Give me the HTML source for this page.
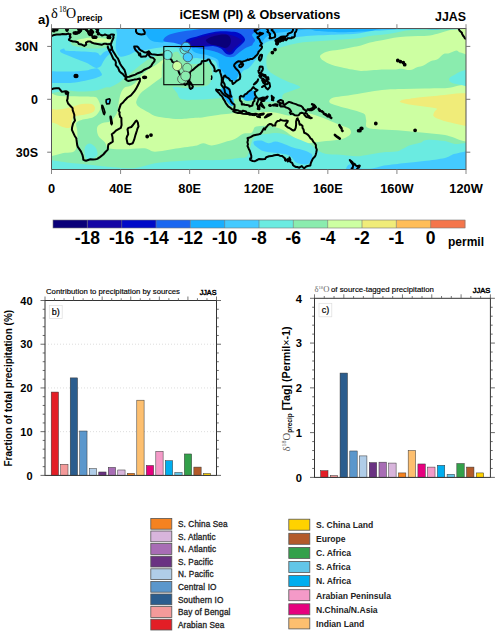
<!DOCTYPE html>
<html><head><meta charset="utf-8"><style>
html,body{margin:0;padding:0;background:#fff;}
body{width:500px;height:636px;overflow:hidden;}
svg{display:block;font-family:"Liberation Sans", sans-serif;}
</style></head><body>
<svg width="500" height="636" viewBox="0 0 500 636">
<clipPath id="mclip"><rect x="51.5" y="28.5" width="414.5" height="141.0"/></clipPath>
<g clip-path="url(#mclip)"><rect x="0" y="0" width="500" height="200" fill="rgb(138,236,174)"/>
<path d="M320.0,56.4 C320.0,55.2 321.6,54.1 323.2,53.2 C324.8,52.3 326.9,51.6 329.5,51.1 C332.6,50.5 338.2,49.9 342.0,49.3 C345.8,48.6 348.8,47.8 352.0,47.2 C355.2,46.6 358.0,46.3 361.0,45.5 C364.0,44.7 366.5,43.4 370.0,42.5 C373.5,41.6 378.0,41.0 382.0,40.2 C386.0,39.4 390.0,38.4 394.0,37.8 C398.0,37.2 402.0,36.9 406.0,36.6 C410.0,36.3 414.0,36.2 418.0,36.0 C422.0,35.8 426.3,35.9 430.0,35.4 C433.7,34.9 436.7,33.9 440.0,33.0 C443.3,32.1 446.7,30.8 450.0,30.0 C453.3,29.2 456.2,29.5 460.0,28.0 C464.2,26.3 472.5,15.8 475.0,20.0 C477.5,24.2 477.4,47.9 475.0,53.3 C472.6,58.6 463.5,53.1 460.4,52.6 C458.5,52.3 458.1,50.4 456.2,50.5 C454.3,50.6 451.3,52.7 449.2,53.3 C447.1,53.9 445.5,53.1 443.6,54.0 C441.7,54.9 440.1,57.7 438.0,58.9 C435.9,60.1 433.3,60.0 431.0,61.0 C428.7,62.0 426.3,64.2 424.0,65.2 C421.7,66.2 419.3,66.5 417.0,67.3 C414.7,68.1 412.6,69.9 410.0,70.1 C407.4,70.3 403.9,68.8 401.6,68.7 C399.3,68.6 398.3,69.3 396.0,69.4 C392.7,69.5 386.1,69.3 382.0,69.5 C377.9,69.7 375.0,70.1 371.5,70.3 C368.0,70.5 363.8,71.0 361.0,70.9 C358.5,70.9 357.2,70.4 354.7,70.0 C351.9,69.5 348.0,68.9 344.2,68.0 C340.4,67.1 335.1,66.0 331.6,64.8 C328.1,63.6 325.1,62.0 323.2,60.6 C321.5,59.4 320.0,57.6 320.0,56.4Z" fill="rgb(205, 255, 162)"/>
<path d="M329.2,101.4 C329.2,100.5 330.1,98.8 331.6,98.2 C333.6,97.3 338.0,96.8 341.2,96.3 C344.4,95.8 347.0,95.6 350.8,95.0 C357.6,94.0 373.3,91.0 382.0,90.0 C390.4,89.0 396.0,89.2 403.0,89.0 C410.0,88.8 417.0,88.7 424.0,88.6 C431.0,88.5 436.6,88.3 445.0,88.3 C453.5,88.2 470.0,79.8 475.0,88.3 C480.0,96.8 480.0,131.3 475.0,139.1 C470.0,146.9 453.5,135.9 445.0,134.9 C436.6,133.9 431.0,133.5 424.0,132.8 C417.0,132.1 410.0,131.2 403.0,130.7 C396.0,130.2 387.9,130.1 382.0,129.6 C376.1,129.1 369.9,129.1 367.3,127.5 C364.8,126.0 366.6,122.3 366.2,120.2 C365.8,118.1 365.6,116.1 365.2,115.0 C364.9,114.2 364.4,113.8 363.6,113.4 C361.7,112.6 357.7,111.3 354.0,110.2 C350.3,109.1 344.9,108.1 341.2,107.0 C337.5,105.9 333.6,104.7 331.6,103.8 C330.4,103.2 329.2,102.3 329.2,101.4Z" fill="rgb(205, 255, 162)"/>
<path d="M250.0,113.0 C253.8,112.9 257.8,112.1 262.0,112.0 C266.2,111.9 270.3,111.9 275.0,112.5 C279.7,113.1 285.9,115.5 290.0,115.8 C293.9,116.1 296.4,114.6 299.6,114.2 C302.8,113.8 305.5,112.9 309.2,113.4 C312.9,113.9 318.3,116.1 322.0,117.4 C325.7,118.7 328.4,120.1 331.6,121.4 C334.8,122.7 338.3,124.2 341.2,125.4 C344.1,126.6 347.6,127.3 349.2,128.6 C350.8,129.9 351.3,131.9 350.8,133.4 C350.3,134.9 348.1,136.3 346.0,137.4 C343.9,138.5 341.3,139.3 338.0,139.8 C334.0,140.5 327.3,140.9 322.0,141.4 C316.7,141.9 310.5,143.6 306.0,143.0 C301.5,142.4 298.5,140.0 295.0,138.0 C291.5,136.0 287.8,132.7 285.0,131.0 C282.4,129.5 280.5,128.8 278.0,128.0 C275.5,127.2 272.7,126.3 270.0,126.0 C267.3,125.7 264.5,125.8 262.0,126.0 C259.5,126.2 256.7,125.9 255.0,127.0 C253.3,128.1 253.6,131.7 251.6,132.8 C249.6,133.9 246.0,132.8 243.2,133.8 C240.4,134.9 238.0,137.7 234.8,139.1 C231.7,140.5 228.2,141.1 224.3,142.2 C220.5,143.2 215.2,145.2 211.7,145.4 C208.2,145.6 205.8,143.3 203.3,143.3 C200.9,143.3 199.6,144.9 197.0,145.4 C192.4,146.3 183.0,147.4 176.0,148.5 C169.0,149.6 160.2,151.7 155.0,151.7 C150.6,151.7 148.9,148.6 144.5,148.3 C139.2,147.9 129.4,149.3 123.5,149.3 C117.6,149.3 112.0,149.5 108.8,148.3 C106.0,147.2 106.3,144.1 104.6,142.0 C102.8,139.9 99.5,138.1 98.3,135.7 C97.1,133.2 96.5,129.4 97.2,127.3 C97.9,125.2 100.2,124.1 102.5,123.1 C104.8,122.0 108.5,122.8 110.9,121.0 C113.4,119.2 115.8,115.4 117.2,112.6 C118.6,109.8 118.2,106.1 119.3,104.0 C120.4,101.9 121.6,100.6 124.0,100.0 C126.5,99.3 131.6,99.0 134.0,100.0 C136.4,101.0 135.9,104.3 138.2,106.3 C140.6,108.4 145.9,111.0 148.7,112.6 C151.2,114.0 152.2,115.3 155.0,116.0 C159.6,117.1 169.0,118.8 176.0,119.1 C183.0,119.4 190.0,118.8 197.0,118.1 C204.0,117.4 211.0,115.9 218.0,115.0 C225.0,114.1 233.7,113.1 239.0,112.8 C243.4,112.5 246.2,113.1 250.0,113.0Z" fill="rgb(205, 255, 162)"/>
<path d="M40.0,95.0 C42.7,87.4 53.3,95.8 60.0,96.0 C66.7,96.2 74.2,96.3 80.0,96.5 C85.8,96.7 92.0,96.4 95.0,97.0 C96.8,97.3 97.5,98.4 98.3,100.0 C99.2,101.9 101.1,105.6 100.4,108.4 C99.7,111.2 97.2,114.9 94.1,116.8 C90.9,118.7 84.5,119.0 81.5,120.0 C79.2,120.8 76.9,121.2 76.2,123.1 C75.5,125.0 77.2,128.1 77.3,131.5 C77.4,135.2 77.5,141.7 77.0,145.0 C76.5,147.8 76.0,150.2 74.0,151.5 C72.0,152.8 68.6,152.7 65.0,152.8 C59.3,153.0 44.0,161.7 40.0,152.5 C35.8,142.9 36.7,104.4 40.0,95.0Z" fill="rgb(205, 255, 162)"/>
<path d="M130.0,86.0 C131.9,85.2 133.4,84.6 135.2,83.0 C137.2,81.1 139.9,76.9 142.2,74.6 C144.5,72.3 146.9,70.6 149.2,69.0 C151.5,67.4 154.1,66.2 156.2,64.8 C158.3,63.4 160.4,61.5 161.8,60.6 C162.8,59.9 164.1,59.0 164.6,59.2 C165.1,59.4 165.0,60.9 165.0,62.0 C165.0,63.8 164.8,67.7 164.5,70.0 C164.2,72.3 164.1,74.3 163.0,76.0 C161.9,77.7 160.0,78.4 158.0,80.0 C155.8,81.7 153.0,83.7 150.0,86.0 C147.0,88.3 142.3,91.0 140.0,94.0 C137.7,97.0 136.0,101.0 136.0,104.0 C136.0,107.0 137.7,110.0 140.0,112.0 C142.3,114.0 146.0,115.0 150.0,116.0 C154.0,117.0 159.0,117.5 164.0,118.0 C169.0,118.5 174.0,119.0 180.0,119.0 C186.0,119.0 196.7,117.0 200.0,118.0 C202.7,118.8 202.8,124.6 200.0,125.0 C191.7,126.2 163.7,125.0 150.0,125.0 C137.2,125.0 123.3,127.5 118.0,125.0 C112.7,122.5 117.7,114.8 118.0,110.0 C118.3,105.2 119.0,99.7 120.0,96.0 C120.9,92.5 122.3,89.7 124.0,88.0 C125.7,86.3 128.1,86.8 130.0,86.0Z" fill="rgb(205, 255, 162)"/>
<path d="M399.8,101.3 C400.5,100.2 407.9,99.0 413.5,98.2 C419.3,97.3 426.1,96.4 434.5,96.0 C444.8,95.5 468.2,90.7 475.0,95.4 C481.8,100.1 479.3,119.9 475.0,124.4 C470.7,128.9 455.2,123.2 449.2,122.3 C444.9,121.7 441.3,120.1 438.7,119.1 C436.5,118.2 434.2,117.2 433.5,116.0 C432.8,114.8 434.0,113.0 434.5,111.8 C435.0,110.6 438.0,109.3 436.6,108.6 C434.9,107.7 428.6,107.3 424.0,106.6 C419.4,105.9 413.3,105.4 409.3,104.5 C405.4,103.6 399.1,102.3 399.8,101.3Z" fill="rgb(240, 236, 121)"/>
<path d="M475.0,100.0 C477.0,99.8 476.5,95.8 475.0,95.0 C473.5,94.2 469.6,94.9 466.0,95.0 C461.0,95.2 452.0,95.5 445.0,96.0 C438.0,96.5 431.0,97.0 424.0,97.8 C417.0,98.5 394.5,100.1 403.0,100.5 C411.5,100.9 463.0,100.9 475.0,100.0Z" fill="rgb(240, 236, 121)"/>
<path d="M50.0,108.8 C53.0,108.9 54.8,109.8 58.0,109.6 C61.5,109.3 66.8,108.1 70.8,107.2 C74.8,106.3 78.5,104.5 82.0,104.0 C85.5,103.5 89.5,103.5 91.6,104.0 C93.4,104.4 94.5,105.9 94.8,107.2 C95.1,108.5 94.8,110.8 93.2,112.0 C91.6,113.2 88.1,113.7 85.2,114.4 C82.3,115.1 77.7,115.3 75.6,116.0 C74.1,116.5 73.1,116.9 72.4,118.4 C71.6,120.1 71.6,124.8 70.8,126.4 C70.2,127.7 69.0,128.0 67.6,128.0 C66.0,128.0 63.3,127.2 61.2,126.4 C59.1,125.6 57.5,124.0 54.8,123.2 C51.3,122.1 42.5,122.4 40.0,120.0 C37.5,117.6 38.3,110.9 40.0,109.0 C41.7,107.1 47.0,108.7 50.0,108.8Z" fill="rgb(240, 236, 121)"/>
<path d="M40.0,20.0 C112.5,8.6 402.5,18.6 475.0,20.0 C478.3,20.1 478.2,27.5 475.0,28.3 C469.2,29.7 447.5,28.4 440.0,28.5 C436.0,28.5 433.7,28.7 430.0,28.8 C426.3,28.9 422.0,29.1 418.0,29.4 C414.0,29.7 410.0,30.0 406.0,30.6 C402.0,31.2 398.0,32.3 394.0,33.0 C390.0,33.7 386.0,34.3 382.0,34.8 C378.0,35.3 374.3,35.4 370.0,36.0 C365.7,36.6 361.7,38.0 356.0,38.6 C349.0,39.4 337.3,39.9 328.0,40.6 C318.7,41.3 307.7,41.7 300.0,42.8 C292.7,43.8 286.6,45.8 282.0,47.0 C278.0,48.0 274.5,48.6 272.2,49.8 C270.1,50.9 268.9,52.5 268.0,54.0 C267.1,55.5 266.6,56.6 266.5,58.5 C266.4,61.0 266.1,66.2 267.5,69.0 C268.9,71.8 271.6,73.2 274.9,75.3 C278.2,77.4 283.3,79.7 287.5,81.6 C291.7,83.5 298.9,85.4 300.0,86.8 C301.1,88.2 296.4,88.9 293.8,90.0 C291.0,91.2 285.4,92.5 283.3,94.2 C281.4,95.7 283.3,98.8 281.2,100.0 C279.0,101.3 274.4,102.0 270.0,102.0 C265.6,102.0 260.0,100.5 255.0,100.0 C250.0,99.5 245.2,99.3 240.0,99.0 C234.8,98.7 230.4,97.9 224.0,98.0 C217.3,98.1 207.2,99.3 200.0,99.5 C192.8,99.7 184.8,100.1 181.0,99.0 C178.2,98.2 178.5,95.2 177.0,93.0 C175.5,90.8 173.4,89.2 172.0,86.0 C170.5,82.5 169.0,76.3 168.0,72.0 C167.0,67.7 166.8,63.3 166.0,60.0 C165.2,56.8 164.6,53.0 163.2,52.2 C161.8,51.4 159.5,54.1 157.6,55.0 C155.7,55.9 153.9,56.9 152.0,57.8 C150.1,58.7 148.3,59.4 146.4,60.6 C144.5,61.8 142.9,63.2 140.8,64.8 C138.7,66.4 136.1,68.5 133.8,70.4 C131.5,72.3 129.4,73.9 126.8,76.0 C124.2,78.1 121.2,81.1 118.4,83.0 C115.6,84.9 112.0,86.5 110.0,87.2 C108.8,87.7 108.0,87.0 106.7,87.3 C104.4,87.8 100.4,89.7 96.2,90.4 C92.0,91.1 86.4,91.5 81.5,91.5 C76.6,91.5 72.7,90.8 66.8,90.4 C59.9,89.9 43.8,98.4 40.0,88.4 C35.5,76.7 13.0,24.2 40.0,20.0Z" fill="rgb(106, 235, 225)"/>
<path d="M40.0,180.0 C32.4,179.7 34.8,163.7 40.0,160.9 C45.2,158.1 62.3,162.3 71.0,163.0 C79.4,163.7 85.0,164.4 92.0,165.1 C99.0,165.8 106.0,166.7 113.0,167.2 C120.0,167.7 127.0,168.8 134.0,168.2 C141.0,167.5 148.0,164.5 155.0,163.3 C162.0,162.1 169.0,161.7 176.0,161.2 C183.0,160.7 190.0,160.3 197.0,160.1 C204.0,159.9 211.0,160.4 218.0,160.1 C225.0,159.8 234.1,158.7 239.0,158.0 C242.4,157.5 245.3,158.7 247.4,155.9 C249.6,153.1 250.6,144.3 252.0,141.0 C253.0,138.6 253.7,137.1 256.0,136.0 C258.4,134.8 263.0,134.5 266.5,134.0 C270.0,133.5 273.9,132.9 277.0,133.0 C280.1,133.1 282.1,133.6 285.4,134.5 C288.9,135.5 293.8,137.3 298.0,139.0 C302.2,140.7 307.5,142.7 310.6,144.5 C313.4,146.1 314.4,148.0 316.9,149.6 C319.3,151.2 321.6,153.0 325.3,153.8 C329.2,154.7 335.4,154.5 340.0,154.8 C344.6,155.2 349.1,155.7 352.6,155.9 C356.0,156.1 357.7,156.3 361.0,155.9 C365.9,155.3 376.2,153.2 382.0,152.5 C387.6,151.8 392.5,152.2 396.0,151.6 C399.0,151.1 400.7,149.8 403.0,148.7 C405.3,147.6 407.0,146.2 410.0,145.2 C413.0,144.1 418.9,143.2 421.2,142.4 C422.5,142.0 422.7,140.8 424.0,140.4 C425.6,139.9 428.2,139.6 431.0,139.7 C434.5,139.8 441.0,140.4 445.0,141.1 C449.0,141.8 450.8,143.2 454.8,143.9 C459.8,144.7 471.6,140.0 475.0,146.0 C478.4,152.0 488.6,178.9 475.0,180.0 C402.5,185.7 112.5,183.2 40.0,180.0Z" fill="rgb(106, 235, 225)"/>
<path d="M449.2,78.4 C449.9,77.0 453.4,75.5 455.5,74.3 C457.6,73.1 459.1,71.8 461.8,71.1 C465.1,70.2 472.8,66.5 475.0,69.0 C477.2,71.5 477.6,83.4 475.0,86.0 C472.4,88.6 463.6,85.3 459.7,84.7 C456.3,84.2 453.1,83.6 451.3,82.6 C449.7,81.6 448.5,79.8 449.2,78.4Z" fill="rgb(106, 235, 225)"/>
<path d="M85.5,146.2 C86.4,144.7 88.3,143.3 90.0,143.5 C91.7,143.7 94.2,145.7 95.5,147.5 C96.8,149.3 97.9,152.8 97.5,154.6 C97.1,156.4 94.8,157.8 93.0,158.5 C91.2,159.2 87.9,159.8 86.5,158.8 C85.1,157.8 84.7,154.6 84.5,152.5 C84.3,150.4 84.6,147.7 85.5,146.2Z" fill="rgb(106, 235, 225)"/>
<path d="M164.0,61.0 C165.3,59.8 168.5,60.3 170.0,59.0 C171.5,57.7 171.7,54.2 173.0,53.0 C174.3,51.8 176.5,51.2 178.0,52.0 C179.5,52.8 180.0,56.1 182.0,58.0 C184.0,59.9 187.3,62.5 190.0,63.5 C192.7,64.5 195.6,64.0 198.4,63.8 C201.2,63.6 204.7,61.9 206.8,62.4 C208.9,62.9 210.1,64.5 211.0,66.6 C211.9,68.7 212.6,72.2 212.4,75.0 C212.2,77.8 211.0,81.5 209.6,83.4 C208.2,85.3 206.4,85.6 204.0,86.2 C201.6,86.8 198.2,86.7 195.0,87.0 C191.8,87.3 188.2,88.0 185.0,88.0 C181.8,88.0 179.5,87.3 176.0,87.0 C172.5,86.7 166.3,87.2 164.0,86.0 C161.7,84.9 162.3,82.5 162.0,80.0 C161.7,76.7 161.7,69.2 162.0,66.0 C162.2,63.9 162.7,62.2 164.0,61.0Z" fill="rgb(138, 236, 174)"/>
<path d="M40.0,20.0 C49.2,17.3 85.8,18.3 95.0,20.0 C98.9,20.7 94.0,27.7 95.0,30.0 C96.0,32.3 98.3,32.9 101.0,34.0 C103.8,35.2 110.2,35.3 112.0,37.0 C113.8,38.7 112.3,42.7 112.0,44.0 C111.9,44.7 111.1,44.6 110.4,45.0 C109.3,45.6 107.7,46.9 105.6,47.4 C103.2,48.0 99.6,48.5 96.0,48.6 C92.4,48.7 87.0,48.3 84.0,48.0 C81.6,47.8 80.0,47.3 78.0,46.8 C76.0,46.3 73.3,46.1 72.0,45.0 C70.7,43.9 70.5,41.6 70.0,40.0 C69.5,38.4 70.7,36.3 69.0,35.5 C67.3,34.7 63.0,35.3 60.0,35.3 C57.0,35.3 54.3,35.4 51.0,35.5 C47.7,35.6 41.8,38.6 40.0,36.0 C38.2,33.4 33.9,21.8 40.0,20.0Z" fill="rgb(138, 236, 174)"/>
<path d="M76.8,40.2 C77.6,39.6 81.6,38.8 84.0,38.4 C86.4,38.0 88.6,37.7 91.2,37.6 C93.8,37.5 96.8,37.8 99.6,38.0 C102.4,38.2 106.1,38.6 108.0,39.0 C109.3,39.2 110.6,39.7 111.0,40.2 C111.4,40.7 111.1,41.8 110.4,42.0 C109.1,42.4 105.6,42.5 103.2,42.6 C100.8,42.7 98.4,42.3 96.0,42.4 C93.6,42.5 90.8,43.0 88.8,43.2 C86.9,43.4 85.6,44.0 84.0,43.8 C82.4,43.6 80.4,42.6 79.2,42.0 C78.1,41.5 76.0,40.8 76.8,40.2Z" fill="rgb(205, 255, 162)"/>
<path d="M60.5,49.8 C61.1,49.2 63.2,48.3 64.0,48.4 C64.8,48.5 64.4,50.3 65.4,50.5 C67.7,51.0 73.8,51.0 78.0,51.2 C82.2,51.4 87.3,51.6 90.6,51.9 C93.4,52.1 96.0,52.3 97.6,52.9 C99.0,53.4 99.4,55.5 100.4,55.4 C101.5,55.3 102.5,53.2 103.9,52.3 C105.3,51.4 107.4,50.7 108.8,50.1 C110.2,49.5 111.4,48.7 112.3,48.7 C113.2,48.7 114.0,49.2 114.0,50.0 C114.0,50.8 113.2,52.5 112.3,53.3 C111.4,54.1 109.8,54.0 108.8,54.7 C107.8,55.4 106.9,56.3 106.0,57.5 C105.1,58.7 104.1,60.2 103.2,61.7 C102.3,63.2 101.6,65.5 100.4,66.6 C99.2,67.6 97.6,68.1 96.2,68.0 C94.8,67.9 93.6,66.8 92.0,65.9 C90.4,65.0 88.7,63.8 86.4,62.7 C84.1,61.7 81.3,60.9 78.0,59.6 C74.7,58.3 69.7,56.4 66.8,55.1 C64.2,54.0 61.5,52.8 60.5,51.9 C59.9,51.4 59.9,50.4 60.5,49.8Z" fill="rgb(68, 202, 255)"/>
<path d="M40.0,72.0 C43.7,70.2 56.3,71.6 62.0,71.5 C66.8,71.4 70.0,71.7 74.0,71.5 C78.0,71.3 82.8,71.0 86.0,70.6 C88.9,70.2 91.2,69.1 93.2,68.8 C95.1,68.5 96.6,68.0 98.0,68.8 C99.4,69.6 101.0,72.5 101.6,73.6 C102.0,74.3 102.1,75.0 101.5,75.5 C100.6,76.2 98.2,77.2 96.0,78.0 C93.8,78.8 91.2,79.3 88.0,80.0 C84.5,80.8 79.8,82.0 75.2,82.5 C70.6,83.0 66.4,83.1 60.5,83.0 C54.6,82.9 43.4,83.8 40.0,82.0 C36.6,80.2 36.4,73.7 40.0,72.0Z" fill="rgb(68, 202, 255)"/>
<path d="M118.0,20.0 C177.7,17.5 415.5,18.6 475.0,20.0 C478.3,20.1 478.3,27.9 475.0,28.3 C463.5,29.7 419.5,28.4 406.0,28.6 C401.2,28.7 398.0,29.1 394.0,29.4 C390.0,29.7 386.0,30.3 382.0,30.6 C378.0,30.9 374.3,30.7 370.0,31.2 C365.7,31.7 361.7,33.3 356.0,33.8 C349.0,34.4 335.7,34.7 328.0,35.0 C320.8,35.3 315.3,35.4 310.0,35.8 C304.7,36.2 300.0,36.7 296.0,37.2 C292.1,37.7 289.5,38.1 286.2,38.6 C282.9,39.1 279.4,39.5 276.4,40.0 C273.4,40.5 270.3,40.5 268.0,41.4 C265.7,42.3 264.0,43.3 262.4,45.6 C260.7,48.0 259.4,53.3 258.0,56.0 C256.7,58.6 255.5,60.0 254.0,62.0 C252.5,64.0 250.6,66.5 248.8,68.0 C247.0,69.5 244.6,69.6 243.2,70.8 C241.8,72.0 241.6,73.6 240.4,75.0 C239.2,76.4 238.1,78.3 236.2,79.2 C234.3,80.1 231.5,81.1 229.2,80.6 C226.9,80.1 224.1,78.5 222.2,76.4 C220.3,74.3 219.2,70.6 218.0,68.0 C216.8,65.4 216.8,62.4 215.2,61.0 C213.6,59.6 211.0,60.1 208.2,59.6 C205.4,59.1 201.1,58.5 198.4,58.2 C195.9,57.9 194.1,58.4 192.0,58.0 C189.9,57.6 187.8,57.3 186.0,56.0 C184.2,54.7 182.7,51.4 181.0,50.0 C179.3,48.6 178.2,47.9 176.0,47.5 C173.3,47.0 168.3,47.2 165.0,47.3 C161.7,47.4 159.2,47.6 156.4,48.0 C153.6,48.4 150.6,48.9 148.0,49.4 C145.4,49.9 143.3,50.3 141.0,50.8 C138.7,51.3 136.1,51.5 134.0,52.2 C131.9,52.9 130.7,54.3 128.4,55.0 C126.1,55.7 122.1,57.2 120.0,56.4 C117.9,55.6 116.7,52.4 116.0,50.0 C115.3,47.6 115.8,44.5 116.0,42.0 C116.2,39.5 116.7,37.8 117.0,35.0 C117.3,31.3 112.0,20.3 118.0,20.0Z" fill="rgb(68, 202, 255)"/>
<path d="M345.0,180.0 C339.6,179.4 345.8,169.2 347.0,166.5 C347.9,164.5 350.3,164.2 352.0,164.0 C353.7,163.8 355.5,164.8 357.0,165.5 C358.5,166.2 359.1,168.0 361.0,168.4 C363.5,168.9 368.5,169.0 372.0,168.6 C375.5,168.2 377.9,166.7 382.0,166.0 C387.2,165.1 396.0,164.1 403.0,163.3 C410.0,162.5 417.0,162.0 424.0,161.1 C431.0,160.2 439.8,159.2 445.0,158.0 C449.4,157.0 451.0,154.6 455.5,153.8 C460.5,152.9 471.8,148.3 475.0,152.7 C478.2,157.1 485.7,177.8 475.0,180.0 C453.3,184.6 366.3,182.2 345.0,180.0Z" fill="rgb(68, 202, 255)"/>
<path d="M222.0,88.0 C222.8,87.1 224.7,86.5 226.0,86.5 C227.3,86.5 229.0,86.6 230.0,88.0 C231.0,89.4 231.3,92.5 232.0,95.0 C232.7,97.5 234.0,101.2 234.0,103.0 C234.0,104.4 233.0,106.0 232.0,106.0 C231.0,106.0 229.3,104.5 228.0,103.0 C226.7,101.5 225.2,98.8 224.0,97.0 C222.8,95.2 221.3,93.5 221.0,92.0 C220.7,90.5 221.2,88.9 222.0,88.0Z" fill="rgb(25, 175, 255)"/>
<path d="M243.0,96.0 C243.3,94.6 245.5,92.9 247.0,92.0 C248.5,91.1 250.7,90.5 252.0,90.5 C253.3,90.5 254.5,90.9 255.0,92.0 C255.5,93.1 255.7,95.6 255.0,97.0 C254.3,98.4 252.7,99.9 251.0,100.5 C249.3,101.1 246.3,101.2 245.0,100.5 C243.7,99.8 242.7,97.4 243.0,96.0Z" fill="rgb(25, 175, 255)"/>
<path d="M146.0,20.0 C201.0,18.6 420.2,18.6 475.0,20.0 C478.4,20.1 478.4,28.2 475.0,28.5 C458.9,30.1 395.9,29.0 378.4,29.4 C375.0,29.5 373.4,30.7 370.0,31.0 C363.9,31.5 350.9,32.2 342.0,32.2 C333.1,32.2 322.1,31.4 316.8,31.0 C314.0,30.8 312.8,29.6 310.0,29.5 C307.0,29.4 302.3,29.8 298.8,30.2 C295.3,30.6 292.7,31.1 289.0,31.6 C285.3,32.1 279.9,32.3 276.4,33.0 C272.9,33.7 270.1,34.6 268.0,35.8 C265.9,37.0 265.0,38.6 263.8,40.0 C262.6,41.4 261.9,42.4 261.0,44.2 C260.1,46.2 259.0,50.0 258.2,52.0 C257.5,53.7 257.4,55.0 256.0,56.0 C254.6,57.0 251.8,57.3 250.0,58.0 C248.2,58.7 246.7,59.3 245.0,60.0 C243.3,60.7 241.2,61.1 240.0,62.0 C238.8,62.9 237.8,64.1 237.6,65.6 C237.4,67.1 239.0,69.3 239.0,71.2 C239.0,73.1 238.3,75.2 237.6,76.8 C236.9,78.4 236.2,80.8 234.8,81.0 C233.4,81.2 231.1,79.6 229.2,78.2 C227.3,76.8 225.2,74.5 223.6,72.6 C222.0,70.7 220.3,69.1 219.4,67.0 C218.5,64.9 219.2,61.6 218.0,60.0 C216.8,58.4 214.3,57.9 212.4,57.1 C210.5,56.3 209.1,55.6 206.8,55.0 C204.5,54.4 200.9,54.4 198.4,53.6 C195.9,52.8 193.4,51.9 192.0,50.0 C190.6,48.1 192.2,43.4 190.0,42.0 C187.8,40.6 182.8,41.6 178.8,41.5 C174.8,41.4 169.0,41.4 166.2,41.5 C164.5,41.6 163.7,42.5 162.0,42.4 C159.7,42.3 154.8,42.2 152.2,41.0 C149.6,39.8 147.8,37.5 146.6,35.4 C145.4,33.3 145.3,31.0 145.2,28.4 C145.1,25.8 142.6,20.1 146.0,20.0Z" fill="rgb(25, 175, 255)"/>
<path d="M254.0,141.5 C255.2,140.8 258.8,140.3 261.2,140.6 C263.6,140.9 266.0,143.2 268.4,143.3 C270.8,143.5 272.9,141.3 275.6,141.5 C278.3,141.7 281.6,143.1 284.6,144.2 C287.6,145.2 290.3,146.8 293.6,147.8 C296.9,148.9 301.4,149.4 304.4,150.5 C307.4,151.6 310.4,152.8 311.6,154.1 C312.8,155.4 312.2,156.9 311.6,158.6 C311.0,160.2 310.4,163.2 308.0,164.0 C305.6,164.8 300.2,164.4 297.2,163.1 C294.2,161.8 292.7,157.6 290.0,156.0 C287.3,154.4 284.0,154.1 281.0,153.5 C278.0,152.9 275.0,152.9 272.0,152.5 C269.0,152.1 265.6,151.9 263.0,151.0 C260.4,150.1 258.2,148.1 256.7,147.0 C255.5,146.1 254.4,145.4 254.0,144.5 C253.6,143.6 252.9,142.1 254.0,141.5Z" fill="rgb(68, 202, 255)"/>
<path d="M163.4,39.6 C163.8,38.5 165.5,36.5 167.6,35.4 C170.0,34.2 173.8,33.1 178.1,32.2 C183.0,31.2 190.3,30.4 197.0,29.5 C203.7,28.6 209.5,27.3 218.0,27.0 C228.8,26.6 255.0,26.5 262.0,27.0 C263.4,27.1 261.0,29.1 260.0,29.8 C259.0,30.5 257.1,30.3 255.8,31.2 C254.5,32.1 252.1,33.5 252.0,35.0 C251.9,36.5 254.8,38.6 255.0,40.0 C255.2,41.4 253.5,42.6 253.0,43.5 C252.5,44.3 252.6,45.1 251.8,45.6 C250.4,46.4 246.9,47.2 244.8,48.4 C242.7,49.6 241.1,51.2 239.2,52.6 C237.3,54.0 235.7,56.1 233.6,56.8 C231.5,57.5 228.7,57.3 226.6,56.8 C224.5,56.3 223.1,54.9 221.0,54.0 C218.9,53.1 216.9,52.0 214.0,51.2 C210.5,50.3 204.0,49.0 200.0,48.4 C196.0,47.8 192.6,47.9 190.0,47.5 C187.7,47.1 186.6,46.6 184.4,46.0 C181.7,45.2 177.1,43.5 173.9,42.8 C170.8,42.1 167.2,42.2 165.5,41.7 C164.4,41.4 163.1,40.7 163.4,39.6Z" fill="rgb(26, 102, 240)"/>
<path d="M40.0,20.0 C42.7,20.0 220.0,18.5 256.0,20.0 C259.5,20.1 256.4,26.8 256.1,28.8 C255.8,30.4 255.3,31.3 254.0,32.3 C252.7,33.3 250.3,34.2 248.4,35.1 C246.5,36.0 244.2,37.3 242.8,37.9 C241.7,38.3 240.2,39.7 240.0,38.6 C239.5,35.6 247.4,20.7 240.0,20.0 C206.7,16.9 37.3,20.0 40.0,20.0Z" fill="rgb(26, 102, 240)"/>
<path d="M186.0,40.5 C186.7,39.4 188.3,38.9 190.0,38.3 C192.1,37.5 195.4,36.9 198.4,36.0 C201.4,35.1 204.9,34.0 208.2,33.2 C211.5,32.5 214.5,31.8 218.0,31.5 C221.5,31.2 225.9,31.3 229.2,31.5 C232.5,31.7 235.3,31.8 237.6,32.5 C239.9,33.2 241.8,34.8 243.0,36.0 C244.2,37.2 245.2,38.7 245.0,40.0 C244.8,41.3 243.4,42.5 242.0,44.0 C240.6,45.5 238.0,47.4 236.4,49.1 C234.8,50.8 233.8,53.2 232.2,54.0 C230.6,54.8 228.5,54.9 226.6,54.0 C224.7,53.1 223.1,49.8 221.0,48.5 C218.9,47.2 216.4,46.5 214.0,46.2 C211.6,45.9 209.4,46.4 206.8,46.5 C204.2,46.6 201.2,46.9 198.4,47.0 C195.6,47.1 192.1,47.3 190.0,47.0 C188.2,46.7 186.7,46.1 186.0,45.0 C185.3,43.9 185.3,41.6 186.0,40.5Z" fill="rgb(0, 10, 200)"/>
<path d="M189.0,42.0 C190.2,40.9 194.0,39.3 197.0,38.2 C200.0,37.1 203.3,36.2 206.8,35.4 C210.3,34.6 214.7,33.5 218.0,33.3 C221.3,33.1 223.7,33.5 226.4,34.0 C229.1,34.5 231.7,35.2 234.0,36.0 C236.3,36.8 238.7,38.2 240.0,39.0 C241.0,39.6 242.3,40.0 242.0,41.0 C241.7,42.0 239.3,43.8 238.0,45.0 C236.7,46.2 235.5,46.8 234.3,48.0 C233.1,49.2 231.9,51.6 230.8,52.3 C229.8,52.9 228.9,52.6 228.0,52.0 C226.6,51.0 224.7,47.7 222.4,46.5 C220.1,45.3 217.1,45.0 214.0,44.8 C210.9,44.6 206.8,45.4 204.0,45.5 C201.2,45.6 199.3,45.6 197.0,45.5 C194.7,45.4 191.3,45.6 190.0,45.0 C188.8,44.5 188.1,42.9 189.0,42.0Z" fill="rgb(20, 5, 165)"/>
<path d="M206.0,40.0 C206.7,38.7 211.0,36.9 214.0,36.0 C217.0,35.1 221.5,34.5 224.0,34.5 C226.1,34.5 227.8,34.9 229.0,36.0 C230.2,37.1 231.0,39.3 231.0,41.0 C231.0,42.7 230.0,44.8 229.0,46.0 C228.0,47.2 226.8,48.0 225.0,48.0 C223.2,48.0 220.5,46.7 218.0,46.0 C215.5,45.3 212.0,45.0 210.0,44.0 C208.0,43.0 205.3,41.3 206.0,40.0Z" fill="rgb(10, 0, 121)"/>
<path d="M107.0,99.4 C107.5,99.1 109.0,98.9 109.5,99.2 C110.0,99.5 109.9,100.8 109.8,101.5 C109.7,102.2 109.3,102.9 108.8,103.2 C108.3,103.5 107.2,103.6 106.8,103.2 C106.4,102.8 106.4,101.6 106.4,101.0 C106.4,100.4 106.5,99.7 107.0,99.4Z" fill="rgb(68, 202, 255)"/>
<polyline points="48.0,37.2 51.5,36.2 54.1,34.9 56.7,34.4 60.1,34.4 62.7,33.9 66.2,34.2 68.4,33.5 69.3,34.4 70.5,34.1 69.8,36.4 70.7,37.2 69.3,38.8 68.9,39.9 70.7,40.8 73.1,41.5 74.8,41.5 77.9,42.3 78.6,43.9 81.7,44.6 84.3,45.9 86.2,44.6 86.0,42.7 87.8,41.5 90.4,41.5 91.6,42.5 94.7,43.6 99.0,44.3 101.6,44.8 103.8,43.8 105.9,43.8 107.3,44.3 110.6,44.1 111.8,47.3 111.3,49.6 109.9,50.3 108.5,48.9 107.8,46.6 107.8,47.6 109.5,51.0 110.6,52.9 112.1,56.1 113.2,58.7 115.2,60.5 115.9,62.3 115.7,64.9 116.8,66.5 118.0,67.6 119.5,71.3 121.1,72.9 122.7,73.9 124.7,76.4 126.1,77.8 126.3,78.8 125.2,79.0 126.8,80.3 128.5,81.0 131.5,80.3 134.4,79.6 137.0,79.2 139.9,78.5 139.9,81.0 139.2,82.5 137.9,85.2 136.3,88.4 134.1,91.7 130.9,95.4 127.5,97.5 124.9,100.2 122.7,102.8 120.9,104.2 119.9,106.9 118.7,110.6 119.7,112.5 119.4,113.9 120.2,116.9 121.4,118.0 121.4,121.3 121.6,124.9 120.8,127.9 116.3,130.3 114.0,132.6 111.8,134.2 112.5,137.2 112.8,141.6 108.5,144.3 108.1,146.0 107.8,149.6 105.4,152.0 103.3,154.5 99.9,157.1 97.3,158.9 95.7,159.3 93.0,159.4 90.4,159.3 86.0,160.7 84.3,160.3 83.3,159.6 83.1,157.5 82.4,154.8 80.9,151.3 79.7,149.6 77.8,146.9 77.2,145.1 76.5,139.9 76.4,138.6 74.5,135.4 71.9,129.8 72.1,127.2 73.1,123.6 75.0,120.5 74.3,117.8 74.3,114.8 72.7,110.1 72.6,108.1 70.7,106.2 68.1,103.5 67.0,100.5 67.6,98.6 67.9,94.4 68.3,92.6 66.9,91.4 65.8,91.2 63.6,91.5 61.7,91.7 60.1,89.6 58.9,88.2 56.2,88.2 53.6,88.5 51.5,89.4 48.0,90.8" fill="none" stroke="#000" stroke-width="2.0" stroke-linejoin="round" stroke-linecap="round"/>
<polyline points="110.6,44.1 111.1,43.6 111.8,41.5 112.1,40.8 112.8,39.5 113.5,37.6 113.3,36.2 114.0,34.8 113.3,34.6 111.3,34.4 109.4,35.5 107.6,35.6 105.0,34.4 104.2,34.9 102.1,35.5 99.9,34.4 98.6,34.1 97.3,31.4 97.8,29.6 96.4,28.8 95.5,26.1" fill="none" stroke="#000" stroke-width="2.0" stroke-linejoin="round" stroke-linecap="round"/>
<polyline points="111.8,47.3 112.3,49.9 114.5,53.5 116.3,56.5 118.0,58.7 119.0,61.0 120.1,63.7 122.0,66.7 124.6,70.2 125.4,72.9 126.1,75.5 126.6,76.9 129.2,76.7 131.8,75.7 135.3,74.6 137.9,73.2 141.7,71.8 143.9,70.0 146.8,68.6 149.1,67.6 151.2,66.0 152.7,63.3 154.3,61.4 154.8,59.6 153.1,57.9 150.6,57.2 148.9,55.4 148.9,52.9 148.2,53.3 147.4,54.2 145.8,56.5 143.9,56.6 141.7,56.8 140.6,56.5 140.4,54.3 139.9,53.3 139.2,55.2 138.7,53.6 137.9,52.2 137.0,51.5 135.4,49.8 134.4,47.8 134.2,46.4 135.4,46.4 137.2,46.4 138.4,47.5 139.2,49.0 140.4,50.1 142.2,51.0 144.1,52.2 146.0,52.6 147.5,52.0 148.7,51.3 149.9,52.6 150.5,53.8 151.7,54.2 154.3,54.5 157.7,54.9 161.2,54.7 163.8,54.7 166.5,54.5 167.6,55.6 168.1,57.2 169.5,57.9 170.3,58.9 171.5,59.8 172.4,61.9 173.8,62.6 175.5,62.3 176.9,61.4 177.1,62.3 177.2,64.9 177.4,66.7 178.1,70.2 178.8,72.0 180.0,74.6 180.5,76.4 181.4,78.1 182.4,79.9 183.3,82.0 184.3,84.1 185.3,85.0 186.6,83.6 188.3,82.9 187.9,81.1 189.3,81.1 189.5,78.5 190.2,75.8 189.8,72.5 190.7,71.3 191.9,70.4 193.6,69.3 195.5,67.6 198.0,65.4 199.2,64.6 200.7,64.0 201.6,62.6 201.8,61.2 203.7,60.9 205.2,61.0 206.9,60.5 208.0,59.4 209.5,59.8 210.0,60.9 210.9,62.8 212.1,64.4 213.5,66.0 214.2,67.6 214.7,69.3 214.4,71.1 216.1,71.4 218.2,70.0 219.9,70.2 220.2,72.5 221.1,75.0 221.8,78.1 221.8,81.7 221.3,84.3 221.6,85.4 223.0,87.0 224.0,88.0 224.7,90.5 224.9,92.6 226.5,94.4 228.0,95.4 230.1,96.8 231.5,96.7 230.3,94.4 230.1,91.9 229.4,89.6 227.8,88.2 225.9,87.1 224.9,86.3 224.6,84.3 223.9,82.9 222.8,81.1 223.3,78.1 224.2,76.0 225.2,75.5 225.9,76.9 227.7,77.8 229.0,78.8 230.3,80.6 232.0,81.0 232.5,83.4 232.7,84.1 233.7,83.4 235.4,82.2 236.3,81.0 238.0,80.1 239.8,79.0 240.3,76.7 240.1,74.6 239.4,72.9 238.4,70.9 236.6,69.3 235.4,67.9 234.1,66.0 234.4,64.4 235.4,63.3 237.2,61.9 238.5,61.2 241.0,61.4 241.1,63.0 242.2,63.5 242.3,61.9 243.2,61.4 244.9,60.9 246.8,60.2 247.7,59.4 248.7,60.0 250.1,59.1 252.4,58.9 254.4,57.5 255.8,55.9 257.2,54.7 258.1,53.5 258.4,52.0 259.6,50.6 260.8,49.4 261.9,47.8 262.0,46.4 261.0,45.5 260.1,45.7 261.3,44.6 261.9,43.6 260.5,42.3 260.0,40.8 259.1,38.8 257.7,37.9 257.5,37.2 259.3,36.0 260.1,34.9 261.9,34.2 263.1,33.5 261.3,33.0 260.0,32.6 258.4,33.7 257.0,33.5 256.2,32.3 254.8,31.2 254.6,30.2 256.2,30.2 257.5,29.6 258.8,28.4 260.5,27.4" fill="none" stroke="#000" stroke-width="2.0" stroke-linejoin="round" stroke-linecap="round"/>
<polyline points="266.5,28.6 267.7,29.6 268.1,31.2 267.4,31.8 269.1,32.8 270.1,34.1 269.6,34.9 270.1,36.4 269.6,38.3 271.0,38.3 272.2,37.9 273.4,37.6 274.8,37.2 275.2,35.8 275.0,34.1 274.3,32.8 273.1,31.2 271.7,30.2 271.7,29.3 273.1,28.4" fill="none" stroke="#000" stroke-width="2.0" stroke-linejoin="round" stroke-linecap="round"/>
<polyline points="458.4,27.9 459.4,30.5 461.0,31.9 461.9,32.8 461.9,33.7 462.7,34.8 462.9,35.5 463.8,36.5 464.4,37.4 465.0,38.5 466.9,38.8" fill="none" stroke="#000" stroke-width="2.0" stroke-linejoin="round" stroke-linecap="round"/>
<polyline points="49.8,33.0 51.8,31.1 51.0,29.8 52.4,28.1 53.6,27.0" fill="none" stroke="#000" stroke-width="2.0" stroke-linejoin="round" stroke-linecap="round"/>
<polyline points="78.4,28.4 78.6,29.6 79.3,30.7 78.6,31.8 79.0,32.5 80.2,31.4 81.0,30.5 80.2,29.5 80.9,28.1 82.1,28.2 83.5,28.6 83.3,27.7" fill="none" stroke="#000" stroke-width="2.0" stroke-linejoin="round" stroke-linecap="round"/>
<polyline points="85.0,28.4 85.9,29.5 86.4,29.6 87.4,30.9 88.3,31.8 88.8,33.5 89.3,34.4 90.2,34.9 90.9,34.1 91.6,35.1 91.4,33.5 92.1,33.4 91.2,32.3 93.0,32.3 92.3,31.2 90.5,30.7 91.2,29.6 91.1,28.2" fill="none" stroke="#000" stroke-width="2.0" stroke-linejoin="round" stroke-linecap="round"/>
<polyline points="98.1,34.1 98.6,33.2 96.9,31.8 97.4,31.2 98.0,29.6 96.6,29.1 96.9,28.2" fill="none" stroke="#000" stroke-width="2.0" stroke-linejoin="round" stroke-linecap="round"/>
<polyline points="78.4,28.4 78.6,29.6 79.3,30.7 78.6,31.8 79.0,32.5 80.2,31.4 81.0,30.5 80.2,29.5 80.9,28.1 82.1,28.2 83.5,28.6 83.3,27.7" fill="none" stroke="#000" stroke-width="2.6" stroke-linejoin="round" stroke-linecap="round"/>
<polyline points="85.0,28.4 85.9,29.5 86.4,29.6 87.4,30.9 88.3,31.8 88.8,33.5 89.3,34.4 90.2,34.9 90.9,34.1 91.6,35.1 91.4,33.5 92.1,33.4 91.2,32.3 93.0,32.3 92.3,31.2 90.5,30.7 91.2,29.6 91.1,28.2" fill="none" stroke="#000" stroke-width="2.6" stroke-linejoin="round" stroke-linecap="round"/>
<polyline points="98.1,34.1 98.6,33.2 96.9,31.8 97.4,31.2 98.0,29.6 96.6,29.1 96.9,28.2" fill="none" stroke="#000" stroke-width="2.6" stroke-linejoin="round" stroke-linecap="round"/>
<polygon points="136.6,120.5 137.9,122.8 138.5,126.6 137.5,128.4 137.0,130.2 135.6,134.6 134.1,139.9 132.8,143.2 129.6,144.4 127.5,143.4 126.5,138.6 127.0,136.5 128.2,134.2 127.8,131.0 127.5,129.3 128.4,127.9 131.3,127.0 133.0,125.0 134.2,123.3 135.6,121.3 136.6,120.5" fill="none" stroke="#000" stroke-width="2.0" stroke-linejoin="round" stroke-linecap="round"/>
<polygon points="216.1,89.4 218.2,90.1 219.9,90.1 221.3,91.9 222.1,93.0 224.2,94.9 225.6,96.1 226.8,96.5 228.7,97.9 230.3,99.7 230.8,101.1 232.0,102.7 232.8,103.5 234.4,104.6 234.6,106.4 234.2,109.5 232.8,109.5 232.0,109.2 230.4,107.9 228.2,106.4 226.5,104.2 225.6,102.8 224.7,100.9 223.3,98.9 222.5,97.0 221.8,96.1 220.2,94.7 218.9,93.0 217.6,91.7 216.3,90.5 216.1,89.4" fill="none" stroke="#000" stroke-width="2.0" stroke-linejoin="round" stroke-linecap="round"/>
<polygon points="233.2,111.3 234.6,109.7 236.1,110.1 238.5,110.4 239.2,111.1 242.2,111.5 243.0,110.6 244.2,111.1 246.0,111.5 246.3,112.5 249.1,112.9 249.4,114.6 247.2,113.9 243.2,113.8 240.4,113.1 238.0,113.1 235.4,112.3 233.9,111.5 233.2,111.3" fill="none" stroke="#000" stroke-width="2.0" stroke-linejoin="round" stroke-linecap="round"/>
<polygon points="239.8,96.7 241.0,95.8 242.3,96.5 243.6,96.5 244.6,94.7 246.7,93.7 248.4,91.7 249.8,90.7 251.0,90.0 252.2,88.4 253.2,87.0 254.1,87.8 254.8,88.7 256.2,89.4 257.5,90.1 256.0,91.2 254.8,92.1 254.8,93.7 255.3,95.4 256.9,97.5 255.3,97.9 254.4,99.3 254.4,100.9 253.2,102.1 252.7,103.9 252.4,105.6 251.7,105.8 249.4,106.5 249.1,105.5 246.7,104.9 244.6,104.8 243.7,104.2 241.8,104.4 241.7,102.1 240.6,101.1 239.9,100.0 239.8,98.4 239.8,96.7" fill="none" stroke="#000" stroke-width="2.0" stroke-linejoin="round" stroke-linecap="round"/>
<polygon points="257.7,109.0 259.4,109.2 259.4,106.9 259.8,104.4 260.6,104.1 261.9,106.2 263.2,107.2 264.3,107.8 262.5,105.1 261.0,102.5 261.9,100.9 263.9,100.9 264.6,100.4 261.3,100.2 259.3,98.4 260.5,98.2 263.1,97.5 265.5,97.7 266.7,96.8 267.7,96.5 266.7,98.4 264.8,98.8 260.5,98.6 258.8,99.7 258.4,98.6 258.1,100.4 257.5,102.5 256.7,104.2 257.7,105.5 258.1,107.2 257.7,109.0" fill="none" stroke="#000" stroke-width="2.0" stroke-linejoin="round" stroke-linecap="round"/>
<polygon points="277.7,101.6 279.3,100.5 280.7,100.0 282.9,100.9 283.4,103.7 284.7,105.1 286.4,103.5 289.0,101.9 291.0,102.5 293.3,103.4 295.9,104.1 298.5,105.3 301.1,106.0 302.8,107.4 303.3,108.8 305.2,110.1 306.8,110.6 305.9,111.6 305.4,113.1 306.9,113.6 307.6,115.2 309.2,116.1 310.2,117.5 311.8,118.0 310.6,118.2 308.0,117.3 306.2,116.9 304.5,115.0 303.7,113.4 301.6,112.7 300.2,113.1 299.3,114.3 298.5,115.3 297.3,115.5 295.0,115.3 292.4,113.6 290.7,114.1 289.8,112.5 291.2,111.6 289.8,109.4 288.1,108.1 285.5,107.2 283.8,106.4 282.1,106.2 280.9,106.5 279.8,105.3 279.5,104.2 281.2,103.5 282.4,103.2 280.9,103.2 279.5,102.8 278.1,101.9 277.7,101.6" fill="none" stroke="#000" stroke-width="2.0" stroke-linejoin="round" stroke-linecap="round"/>
<polygon points="247.5,138.1 248.4,137.7 249.4,137.7 251.0,136.9 253.1,135.6 255.3,135.1 257.9,134.6 260.5,133.7 261.9,131.9 262.7,130.2 263.9,128.4 265.0,129.6 265.5,128.0 267.0,126.3 268.2,124.9 270.0,124.0 271.7,124.3 272.7,125.7 273.4,125.4 275.3,125.6 275.5,123.3 276.5,122.0 277.6,121.0 279.5,120.8 280.5,119.6 281.2,120.1 282.9,120.5 284.7,120.8 286.4,120.5 287.8,121.0 287.2,122.6 286.2,123.5 285.5,125.4 287.6,127.3 289.3,128.0 290.7,128.9 292.1,130.0 293.3,130.5 294.7,130.0 295.7,127.9 296.1,124.9 296.1,121.5 296.9,118.7 297.6,118.2 298.3,120.3 299.0,121.2 299.3,123.3 299.7,124.7 300.9,124.5 302.4,125.7 302.6,128.2 303.5,129.3 304.2,132.8 306.1,133.5 308.0,134.9 309.5,136.7 310.6,138.6 311.9,139.2 313.2,141.6 314.9,143.4 315.9,145.0 315.9,147.4 316.8,149.7 316.3,152.2 315.7,154.8 314.9,156.6 313.0,158.4 312.3,159.8 311.4,161.7 310.6,163.8 310.4,165.4 307.6,166.0 306.2,166.5 304.2,168.2 302.8,167.2 301.8,166.1 300.5,166.8 299.3,167.7 297.3,167.0 296.1,167.0 294.2,166.1 292.9,164.9 292.6,163.7 291.9,162.6 290.5,162.1 290.0,160.7 290.5,160.0 289.5,157.5 289.3,159.1 289.0,160.8 287.8,161.5 288.5,160.3 287.8,159.1 286.7,159.8 285.7,160.7 285.0,160.0 285.2,158.5 283.4,157.1 282.2,155.9 279.8,155.7 278.1,154.8 274.3,155.2 271.7,156.1 269.1,156.3 266.2,157.3 265.0,159.1 262.2,159.3 258.8,159.1 256.2,160.5 255.0,161.2 252.7,161.0 250.1,159.8 250.1,158.5 251.3,158.0 251.3,155.7 250.5,153.1 249.9,151.0 248.7,148.7 247.5,146.0 248.0,144.3 247.4,142.3 248.0,139.9 247.5,138.1" fill="none" stroke="#000" stroke-width="2.0" stroke-linejoin="round" stroke-linecap="round"/>
<polygon points="258.9,58.7 259.1,59.8 260.1,60.7 261.3,58.7 262.0,56.1 262.0,55.0 261.3,54.7 260.5,55.0 259.6,56.1 258.9,57.9 258.9,58.7" fill="none" stroke="#000" stroke-width="2.0" stroke-linejoin="round" stroke-linecap="round"/>
<polygon points="239.1,65.4 240.3,64.2 241.7,63.9 242.9,64.0 243.2,64.7 242.3,66.1 240.8,67.2 239.4,66.9 239.1,65.4" fill="none" stroke="#000" stroke-width="2.0" stroke-linejoin="round" stroke-linecap="round"/>
<polygon points="189.5,82.0 190.2,82.0 191.7,84.3 192.9,86.4 192.4,87.8 190.7,88.9 189.8,88.2 189.3,85.9 189.5,82.0" fill="none" stroke="#000" stroke-width="2.0" stroke-linejoin="round" stroke-linecap="round"/>
<polygon points="349.8,160.0 351.1,161.0 352.5,162.2 353.4,163.7 354.6,163.7 355.3,165.1 357.0,166.1 358.9,165.6 359.8,165.8 358.9,167.5 357.5,168.2 357.0,169.0 357.2,170.2 356.0,171.6 354.1,172.7 353.4,171.9 354.1,170.5 353.0,169.5 351.7,168.4 352.7,167.7 353.2,165.4 352.4,163.8 351.1,162.1 349.8,160.0" fill="none" stroke="#000" stroke-width="2.0" stroke-linejoin="round" stroke-linecap="round"/>
<polygon points="249.3,113.8 250.5,113.6 251.3,114.1 250.3,114.8 249.3,113.8" fill="none" stroke="#000" stroke-width="2.0" stroke-linejoin="round" stroke-linecap="round"/>
<polygon points="251.8,114.1 253.1,113.9 252.7,115.0 251.8,114.8 251.8,114.1" fill="none" stroke="#000" stroke-width="2.0" stroke-linejoin="round" stroke-linecap="round"/>
<polygon points="253.2,114.3 255.3,113.8 257.0,114.1 256.2,114.8 253.9,115.2 253.2,114.3" fill="none" stroke="#000" stroke-width="2.0" stroke-linejoin="round" stroke-linecap="round"/>
<polygon points="258.4,114.5 260.5,114.1 263.8,113.6 263.2,114.5 260.5,115.0 258.6,114.8 258.4,114.5" fill="none" stroke="#000" stroke-width="2.0" stroke-linejoin="round" stroke-linecap="round"/>
<polygon points="257.0,116.2 259.6,116.2 260.1,117.3 257.9,116.8 257.0,116.2" fill="none" stroke="#000" stroke-width="2.0" stroke-linejoin="round" stroke-linecap="round"/>
<polygon points="264.8,117.5 266.5,115.7 267.7,114.6 271.4,114.1 270.0,115.0 267.4,116.4 265.7,117.3 264.8,117.5" fill="none" stroke="#000" stroke-width="2.0" stroke-linejoin="round" stroke-linecap="round"/>
<polygon points="271.7,95.8 272.6,96.8 273.8,97.5 272.6,98.2 273.6,98.6 272.4,98.9 273.3,100.4 271.9,100.0 272.0,97.9 271.7,95.8" fill="none" stroke="#000" stroke-width="2.0" stroke-linejoin="round" stroke-linecap="round"/>
<polygon points="269.1,105.1 270.1,104.8 271.2,105.5 270.1,106.0 269.1,105.6 269.1,105.1" fill="none" stroke="#000" stroke-width="2.0" stroke-linejoin="round" stroke-linecap="round"/>
<polygon points="272.6,105.1 275.2,104.2 277.4,104.6 277.4,106.0 275.2,105.5 272.9,105.5 272.6,105.1" fill="none" stroke="#000" stroke-width="2.0" stroke-linejoin="round" stroke-linecap="round"/>
<polygon points="307.6,109.2 309.7,109.2 310.9,108.8 312.3,108.1 313.2,106.7 314.4,106.7 314.7,107.8 313.7,109.2 311.9,110.2 309.7,110.2 307.6,109.5 307.6,109.2" fill="none" stroke="#000" stroke-width="2.0" stroke-linejoin="round" stroke-linecap="round"/>
<polygon points="311.9,103.9 313.7,104.6 315.2,106.0 316.1,107.4 315.6,107.6 314.0,105.6 311.9,104.4 311.9,103.9" fill="none" stroke="#000" stroke-width="2.0" stroke-linejoin="round" stroke-linecap="round"/>
<polygon points="318.5,108.5 320.1,109.9 320.8,111.3 319.5,111.1 318.5,109.2 318.5,108.5" fill="none" stroke="#000" stroke-width="2.0" stroke-linejoin="round" stroke-linecap="round"/>
<polygon points="321.8,110.9 323.5,112.2 323.2,112.7 321.8,111.6 321.8,110.9" fill="none" stroke="#000" stroke-width="2.0" stroke-linejoin="round" stroke-linecap="round"/>
<polygon points="323.7,113.4 326.1,114.3 327.5,115.7 325.8,115.2 323.7,113.9 323.7,113.4" fill="none" stroke="#000" stroke-width="2.0" stroke-linejoin="round" stroke-linecap="round"/>
<polygon points="327.1,115.7 329.2,115.9 329.4,116.8 327.5,116.6 327.1,115.7" fill="none" stroke="#000" stroke-width="2.0" stroke-linejoin="round" stroke-linecap="round"/>
<polygon points="328.9,114.1 330.1,115.3 330.4,116.6 329.4,115.2 328.9,114.1" fill="none" stroke="#000" stroke-width="2.0" stroke-linejoin="round" stroke-linecap="round"/>
<polygon points="330.4,117.3 331.6,117.8 331.3,118.3 330.3,117.6 330.4,117.3" fill="none" stroke="#000" stroke-width="2.0" stroke-linejoin="round" stroke-linecap="round"/>
<polygon points="275.5,40.8 276.4,42.0 276.2,44.1 277.1,44.6 277.9,43.9 278.6,42.2 279.0,40.6 277.9,39.5 276.9,39.5 275.7,40.1 275.5,40.8" fill="none" stroke="#000" stroke-width="2.0" stroke-linejoin="round" stroke-linecap="round"/>
<polygon points="279.5,41.1 280.5,41.5 281.7,40.6 283.4,40.6 284.1,39.3 282.9,38.6 281.2,39.3 280.2,39.7 279.5,41.1" fill="none" stroke="#000" stroke-width="2.0" stroke-linejoin="round" stroke-linecap="round"/>
<polygon points="277.6,39.0 278.4,38.6 280.2,38.6 282.1,38.5 284.1,38.1 285.3,38.1 284.8,38.8 285.0,39.5 286.0,40.2 287.2,39.0 287.9,38.1 288.6,38.3 290.2,38.3 291.4,38.3 291.9,37.2 292.9,37.8 293.3,37.4 294.0,37.2 294.8,36.2 294.8,34.2 295.0,32.6 295.9,31.8 296.4,30.5 296.7,28.9 296.4,27.4 293.8,27.4 293.1,28.8 292.9,30.5 292.3,31.6 291.0,32.6 288.6,33.5 287.8,33.9 287.6,35.3 286.4,36.2 285.3,36.5 283.3,36.5 281.4,36.7 280.2,37.4 278.4,38.5 277.6,39.0" fill="none" stroke="#000" stroke-width="2.0" stroke-linejoin="round" stroke-linecap="round"/>
<polygon points="259.8,66.7 260.6,66.5 262.5,66.7 262.9,68.8 262.4,70.6 261.5,71.3 261.2,72.5 261.7,74.1 262.7,74.3 263.6,74.6 264.4,75.0 265.3,75.0 265.8,76.2 265.7,77.1 264.6,76.6 263.2,75.7 261.9,74.8 260.5,75.1 259.8,73.9 259.8,73.0 258.8,72.9 258.4,70.6 259.3,70.2 259.4,68.4 259.8,66.7" fill="none" stroke="#000" stroke-width="2.0" stroke-linejoin="round" stroke-linecap="round"/>
<polygon points="266.2,77.3 268.2,77.3 268.6,79.6 267.4,79.4 267.2,81.7 266.2,81.1 266.5,79.4 266.2,77.3" fill="none" stroke="#000" stroke-width="2.0" stroke-linejoin="round" stroke-linecap="round"/>
<polygon points="262.0,78.5 263.1,78.8 264.1,79.6 263.9,80.6 263.1,80.6 262.2,80.8 262.2,79.4 262.0,78.5" fill="none" stroke="#000" stroke-width="2.0" stroke-linejoin="round" stroke-linecap="round"/>
<polygon points="262.9,81.7 264.1,81.0 264.6,81.8 264.1,83.3 263.2,82.7 262.9,81.7" fill="none" stroke="#000" stroke-width="2.0" stroke-linejoin="round" stroke-linecap="round"/>
<polygon points="264.6,80.1 265.7,80.8 265.0,82.4 264.4,81.3 264.6,80.1" fill="none" stroke="#000" stroke-width="2.0" stroke-linejoin="round" stroke-linecap="round"/>
<polygon points="259.3,75.5 260.8,75.7 261.3,76.7 260.6,77.6 259.8,76.6 259.3,75.5" fill="none" stroke="#000" stroke-width="2.0" stroke-linejoin="round" stroke-linecap="round"/>
<polygon points="262.0,87.0 263.6,85.9 264.6,85.5 265.1,84.1 266.7,84.3 268.1,83.4 268.2,82.0 269.5,83.1 270.1,86.4 269.3,87.8 268.4,88.7 267.9,89.4 266.5,88.4 265.7,87.3 264.8,85.9 263.1,86.4 262.0,87.0" fill="none" stroke="#000" stroke-width="2.0" stroke-linejoin="round" stroke-linecap="round"/>
<polygon points="253.9,84.5 255.1,83.1 257.4,81.1 258.1,79.4 257.7,80.8 256.5,82.4 254.8,84.0 253.9,84.5" fill="none" stroke="#000" stroke-width="2.0" stroke-linejoin="round" stroke-linecap="round"/>
<polygon points="136.1,27.0 136.0,31.4 137.0,33.2 138.7,34.1 141.3,34.6 144.6,34.1 144.8,32.3 143.4,29.6 143.0,27.0 136.1,27.0" fill="none" stroke="#000" stroke-width="2.0" stroke-linejoin="round" stroke-linecap="round"/>
<polyline points="211.6,76.0 211.8,77.8 211.4,79.2" fill="none" stroke="#000" stroke-width="1.5" stroke-linecap="round"/>
<polygon points="106.2,99.8 109.4,98.8 110.2,100.0 109.4,103.7 106.8,103.9 106.1,101.9 106.2,99.8" fill="none" stroke="#000" stroke-width="1.6" stroke-linejoin="round"/>
<polygon points="101.9,105.3 102.6,105.5 104.0,109.0 105.0,112.5 104.3,114.6 103.7,113.9 102.6,110.4 101.9,107.8 101.9,105.3" fill="none" stroke="#000" stroke-width="1.6" stroke-linejoin="round"/>
<polygon points="110.2,116.2 110.9,116.2 111.6,119.6 112.3,123.1 111.6,124.7 110.9,123.3 110.7,120.5 110.2,117.8 110.2,116.2" fill="none" stroke="#000" stroke-width="1.6" stroke-linejoin="round"/>
<polygon points="275.5,40.8 276.4,42.0 276.2,44.1 277.1,44.6 277.9,43.9 278.6,42.2 279.0,40.6 277.9,39.5 276.9,39.5 275.7,40.1 275.5,40.8" fill="#000" stroke="#000" stroke-width="1.6" stroke-linejoin="round"/>
<polygon points="279.5,41.1 280.5,41.5 281.7,40.6 283.4,40.6 284.1,39.3 282.9,38.6 281.2,39.3 280.2,39.7 279.5,41.1" fill="#000" stroke="#000" stroke-width="1.6" stroke-linejoin="round"/>
<polyline points="334.9,134.9 337.3,136.9 339.8,138.6" fill="none" stroke="#000" stroke-width="2.6" stroke-linecap="round" stroke-linejoin="round"/>
<polyline points="339.4,125.2 340.3,126.8 341.5,128.4" fill="none" stroke="#000" stroke-width="2.6" stroke-linecap="round" stroke-linejoin="round"/>
<polyline points="342.0,130.3 342.5,130.9" fill="none" stroke="#000" stroke-width="2.6" stroke-linecap="round" stroke-linejoin="round"/>
<ellipse cx="144.6" cy="77.3" rx="1.7" ry="0.9" fill="none" stroke="#000" stroke-width="2.0"/>
<ellipse cx="147.2" cy="136.5" rx="0.9" ry="0.9" fill="none" stroke="#000" stroke-width="2.0"/>
<ellipse cx="151.0" cy="135.1" rx="0.9" ry="0.9" fill="none" stroke="#000" stroke-width="2.0"/>
<ellipse cx="359.3" cy="130.7" rx="1.6" ry="0.9" fill="none" stroke="#000" stroke-width="2.0"/>
<ellipse cx="361.5" cy="128.4" rx="1.2" ry="0.9" fill="none" stroke="#000" stroke-width="2.0"/>
<ellipse cx="375.8" cy="123.5" rx="0.9" ry="0.9" fill="none" stroke="#000" stroke-width="2.0"/>
<ellipse cx="415.1" cy="130.3" rx="0.9" ry="0.9" fill="none" stroke="#000" stroke-width="2.0"/>
<ellipse cx="272.4" cy="52.6" rx="0.9" ry="0.9" fill="none" stroke="#000" stroke-width="2.0"/>
<ellipse cx="275.0" cy="49.6" rx="0.9" ry="0.9" fill="none" stroke="#000" stroke-width="2.0"/>
<ellipse cx="404.7" cy="64.7" rx="0.9" ry="0.9" fill="none" stroke="#000" stroke-width="2.0"/>
<ellipse cx="403.3" cy="62.6" rx="0.9" ry="0.9" fill="none" stroke="#000" stroke-width="2.0"/>
<ellipse cx="400.4" cy="61.6" rx="0.9" ry="0.9" fill="none" stroke="#000" stroke-width="2.0"/>
<ellipse cx="397.8" cy="60.5" rx="0.9" ry="0.9" fill="none" stroke="#000" stroke-width="2.0"/>
<ellipse cx="66.5" cy="93.1" rx="0.9" ry="0.9" fill="none" stroke="#000" stroke-width="2.0"/>
<ellipse cx="67.0" cy="28.8" rx="1.0" ry="2.1" fill="none" stroke="#000" stroke-width="2.0"/>
<ellipse cx="75.7" cy="33.0" rx="2.2" ry="0.9" fill="none" stroke="#000" stroke-width="2.0"/>
<ellipse cx="94.5" cy="37.2" rx="2.1" ry="0.9" fill="none" stroke="#000" stroke-width="2.0"/>
<ellipse cx="109.0" cy="37.4" rx="1.6" ry="0.9" fill="none" stroke="#000" stroke-width="2.0"/>
<ellipse cx="56.7" cy="29.5" rx="0.9" ry="0.9" fill="none" stroke="#000" stroke-width="2.0"/>
<ellipse cx="53.9" cy="30.7" rx="0.9" ry="0.9" fill="none" stroke="#000" stroke-width="2.0"/>
<ellipse cx="76.0" cy="76.0" rx="2.6" ry="2.2" fill="#000"/>
<circle cx="184.5" cy="49.5" r="4.5" fill="rgb(106, 235, 225)" stroke="#444" stroke-width="0.7"/>
<circle cx="186" cy="46.8" r="4.6" fill="rgb(68, 202, 255)" stroke="#444" stroke-width="0.7"/>
<circle cx="167.5" cy="55" r="4.6" fill="rgb(106, 235, 225)" stroke="#444" stroke-width="0.7"/>
<circle cx="187.8" cy="57.2" r="4.6" fill="rgb(68, 202, 255)" stroke="#444" stroke-width="0.7"/>
<circle cx="177.2" cy="66" r="4.6" fill="rgb(205, 255, 162)" stroke="#444" stroke-width="0.7"/>
<circle cx="187.2" cy="67.8" r="4.5" fill="rgb(138, 236, 174)" stroke="#444" stroke-width="0.7"/>
<circle cx="182.2" cy="79" r="4.6" fill="rgb(138, 236, 174)" stroke="#444" stroke-width="0.7"/>
<circle cx="185.5" cy="76" r="4.8" fill="rgb(138, 236, 174)" stroke="#444" stroke-width="0.7"/>
<rect x="163.8" y="46.5" width="39.9" height="38.2" fill="none" stroke="#000" stroke-width="1.1"/></g>
<rect x="51.5" y="28.5" width="414.5" height="141.0" fill="none" stroke="#555" stroke-width="1"/>
<line x1="51.50" y1="28.5" x2="51.50" y2="24.2" stroke="#888" stroke-width="1"/>
<line x1="51.50" y1="169.5" x2="51.50" y2="174.0" stroke="#888" stroke-width="1"/>
<line x1="120.58" y1="28.5" x2="120.58" y2="24.2" stroke="#888" stroke-width="1"/>
<line x1="120.58" y1="169.5" x2="120.58" y2="174.0" stroke="#888" stroke-width="1"/>
<line x1="189.67" y1="28.5" x2="189.67" y2="24.2" stroke="#888" stroke-width="1"/>
<line x1="189.67" y1="169.5" x2="189.67" y2="174.0" stroke="#888" stroke-width="1"/>
<line x1="258.75" y1="28.5" x2="258.75" y2="24.2" stroke="#888" stroke-width="1"/>
<line x1="258.75" y1="169.5" x2="258.75" y2="174.0" stroke="#888" stroke-width="1"/>
<line x1="327.83" y1="28.5" x2="327.83" y2="24.2" stroke="#888" stroke-width="1"/>
<line x1="327.83" y1="169.5" x2="327.83" y2="174.0" stroke="#888" stroke-width="1"/>
<line x1="396.92" y1="28.5" x2="396.92" y2="24.2" stroke="#888" stroke-width="1"/>
<line x1="396.92" y1="169.5" x2="396.92" y2="174.0" stroke="#888" stroke-width="1"/>
<line x1="466.00" y1="28.5" x2="466.00" y2="24.2" stroke="#888" stroke-width="1"/>
<line x1="466.00" y1="169.5" x2="466.00" y2="174.0" stroke="#888" stroke-width="1"/>
<line x1="51.5" y1="46.40" x2="47.2" y2="46.40" stroke="#777" stroke-width="1"/>
<line x1="466.0" y1="46.40" x2="470.3" y2="46.40" stroke="#777" stroke-width="1"/>
<line x1="51.5" y1="99.30" x2="47.2" y2="99.30" stroke="#777" stroke-width="1"/>
<line x1="466.0" y1="99.30" x2="470.3" y2="99.30" stroke="#777" stroke-width="1"/>
<line x1="51.5" y1="152.20" x2="47.2" y2="152.20" stroke="#777" stroke-width="1"/>
<line x1="466.0" y1="152.20" x2="470.3" y2="152.20" stroke="#777" stroke-width="1"/>
<text x="51.50" y="193.1" font-size="12.8" font-weight="bold" text-anchor="middle">0</text>
<text x="120.58" y="193.1" font-size="12.8" font-weight="bold" text-anchor="middle">40E</text>
<text x="189.67" y="193.1" font-size="12.8" font-weight="bold" text-anchor="middle">80E</text>
<text x="258.75" y="193.1" font-size="12.8" font-weight="bold" text-anchor="middle">120E</text>
<text x="327.83" y="193.1" font-size="12.8" font-weight="bold" text-anchor="middle">160E</text>
<text x="396.92" y="193.1" font-size="12.8" font-weight="bold" text-anchor="middle">160W</text>
<text x="466.00" y="193.1" font-size="12.8" font-weight="bold" text-anchor="middle">120W</text>
<text x="38" y="50.90" font-size="12.5" font-weight="bold" text-anchor="end">30N</text>
<text x="38" y="103.80" font-size="12.5" font-weight="bold" text-anchor="end">0</text>
<text x="38" y="156.70" font-size="12.5" font-weight="bold" text-anchor="end">30S</text>
<text x="38" y="23.5" font-size="13" font-weight="bold">a)</text>
<text x="51" y="17.7" font-family="\"Liberation Serif\", serif" font-size="14.5">δ</text>
<text x="59" y="11.5" font-family="\"Liberation Serif\", serif" font-size="7.5">18</text>
<text x="66" y="17.7" font-family="\"Liberation Serif\", serif" font-size="14">O</text>
<text x="77" y="20.5" font-size="8.5" font-weight="bold">precip</text>
<text x="179.4" y="19" font-size="12.65" font-weight="bold">iCESM (PI) &amp; Observations</text>
<text x="466" y="21.4" font-size="12.4" font-weight="bold" text-anchor="end">JJAS</text>
<rect x="53.00" y="220" width="34.63" height="8" fill="rgb(10, 0, 121)"/>
<rect x="87.33" y="220" width="34.63" height="8" fill="rgb(20, 5, 165)"/>
<rect x="121.67" y="220" width="34.63" height="8" fill="rgb(0, 10, 200)"/>
<rect x="156.00" y="220" width="34.63" height="8" fill="rgb(26, 102, 240)"/>
<rect x="190.33" y="220" width="34.63" height="8" fill="rgb(25, 175, 255)"/>
<rect x="224.67" y="220" width="34.63" height="8" fill="rgb(68, 202, 255)"/>
<rect x="259.00" y="220" width="34.63" height="8" fill="rgb(106, 235, 225)"/>
<rect x="293.33" y="220" width="34.63" height="8" fill="rgb(138, 236, 174)"/>
<rect x="327.67" y="220" width="34.63" height="8" fill="rgb(205, 255, 162)"/>
<rect x="362.00" y="220" width="34.63" height="8" fill="rgb(240, 236, 121)"/>
<rect x="396.33" y="220" width="34.63" height="8" fill="rgb(255, 189, 87)"/>
<rect x="430.67" y="220" width="34.63" height="8" fill="rgb(244, 117, 75)"/>
<rect x="53.0" y="220" width="412.0" height="8" fill="none" stroke="#777" stroke-width="0.6"/>
<line x1="87.33" y1="220" x2="87.33" y2="228" stroke="#777" stroke-width="0.6"/>
<line x1="121.67" y1="220" x2="121.67" y2="228" stroke="#777" stroke-width="0.6"/>
<line x1="156.00" y1="220" x2="156.00" y2="228" stroke="#777" stroke-width="0.6"/>
<line x1="190.33" y1="220" x2="190.33" y2="228" stroke="#777" stroke-width="0.6"/>
<line x1="224.67" y1="220" x2="224.67" y2="228" stroke="#777" stroke-width="0.6"/>
<line x1="259.00" y1="220" x2="259.00" y2="228" stroke="#777" stroke-width="0.6"/>
<line x1="293.33" y1="220" x2="293.33" y2="228" stroke="#777" stroke-width="0.6"/>
<line x1="327.67" y1="220" x2="327.67" y2="228" stroke="#777" stroke-width="0.6"/>
<line x1="362.00" y1="220" x2="362.00" y2="228" stroke="#777" stroke-width="0.6"/>
<line x1="396.33" y1="220" x2="396.33" y2="228" stroke="#777" stroke-width="0.6"/>
<line x1="430.67" y1="220" x2="430.67" y2="228" stroke="#777" stroke-width="0.6"/>
<text x="87.33" y="243.6" font-size="17.5" font-weight="bold" text-anchor="middle">-18</text>
<text x="121.67" y="243.6" font-size="17.5" font-weight="bold" text-anchor="middle">-16</text>
<text x="156.00" y="243.6" font-size="17.5" font-weight="bold" text-anchor="middle">-14</text>
<text x="190.33" y="243.6" font-size="17.5" font-weight="bold" text-anchor="middle">-12</text>
<text x="224.67" y="243.6" font-size="17.5" font-weight="bold" text-anchor="middle">-10</text>
<text x="259.00" y="243.6" font-size="17.5" font-weight="bold" text-anchor="middle">-8</text>
<text x="293.33" y="243.6" font-size="17.5" font-weight="bold" text-anchor="middle">-6</text>
<text x="327.67" y="243.6" font-size="17.5" font-weight="bold" text-anchor="middle">-4</text>
<text x="362.00" y="243.6" font-size="17.5" font-weight="bold" text-anchor="middle">-2</text>
<text x="396.33" y="243.6" font-size="17.5" font-weight="bold" text-anchor="middle">-1</text>
<text x="430.67" y="243.6" font-size="17.5" font-weight="bold" text-anchor="middle">0</text>
<text x="448" y="245.6" font-size="12" font-weight="bold">permil</text>
<line x1="45" y1="431.67" x2="216.5" y2="431.67" stroke="#d4d4d4" stroke-width="0.8" stroke-dasharray="1 2"/>
<line x1="45" y1="387.95" x2="216.5" y2="387.95" stroke="#d4d4d4" stroke-width="0.8" stroke-dasharray="1 2"/>
<line x1="45" y1="344.23" x2="216.5" y2="344.23" stroke="#d4d4d4" stroke-width="0.8" stroke-dasharray="1 2"/>
<rect x="51.20" y="392.06" width="7.30" height="83.34" fill="rgb(227, 30, 38)" stroke="#333" stroke-width="0.5"/>
<rect x="60.71" y="464.29" width="7.30" height="11.11" fill="rgb(244, 154, 154)" stroke="#333" stroke-width="0.5"/>
<rect x="70.22" y="377.89" width="7.30" height="97.51" fill="rgb(43, 93, 142)" stroke="#333" stroke-width="0.5"/>
<rect x="79.73" y="431.02" width="7.30" height="44.38" fill="rgb(91, 151, 204)" stroke="#333" stroke-width="0.5"/>
<rect x="89.24" y="468.62" width="7.30" height="6.78" fill="rgb(176, 205, 232)" stroke="#333" stroke-width="0.5"/>
<rect x="98.75" y="471.99" width="7.30" height="3.41" fill="rgb(106, 50, 130)" stroke="#333" stroke-width="0.5"/>
<rect x="108.26" y="467.40" width="7.30" height="8.00" fill="rgb(168, 109, 181)" stroke="#333" stroke-width="0.5"/>
<rect x="117.77" y="469.98" width="7.30" height="5.42" fill="rgb(216, 181, 220)" stroke="#333" stroke-width="0.5"/>
<rect x="127.28" y="473.30" width="7.30" height="2.10" fill="rgb(245, 130, 32)" stroke="#333" stroke-width="0.5"/>
<rect x="136.79" y="400.19" width="7.30" height="75.21" fill="rgb(253, 191, 111)" stroke="#333" stroke-width="0.5"/>
<rect x="146.30" y="465.47" width="7.30" height="9.93" fill="rgb(230, 0, 126)" stroke="#333" stroke-width="0.5"/>
<rect x="155.81" y="451.35" width="7.30" height="24.05" fill="rgb(244, 154, 200)" stroke="#333" stroke-width="0.5"/>
<rect x="165.32" y="460.71" width="7.30" height="14.69" fill="rgb(0, 174, 239)" stroke="#333" stroke-width="0.5"/>
<rect x="174.83" y="472.51" width="7.30" height="2.89" fill="rgb(98, 198, 232)" stroke="#333" stroke-width="0.5"/>
<rect x="184.34" y="453.97" width="7.30" height="21.43" fill="rgb(51, 160, 74)" stroke="#333" stroke-width="0.5"/>
<rect x="193.85" y="467.09" width="7.30" height="8.31" fill="rgb(179, 90, 42)" stroke="#333" stroke-width="0.5"/>
<rect x="203.36" y="473.52" width="7.30" height="1.88" fill="rgb(255, 210, 0)" stroke="#333" stroke-width="0.5"/>
<rect x="45" y="300.5" width="171.5" height="174.89999999999998" fill="none" stroke="#333" stroke-width="1"/>
<line x1="45" y1="475.40" x2="40.5" y2="475.40" stroke="#444" stroke-width="0.8"/>
<line x1="216.5" y1="475.40" x2="221.0" y2="475.40" stroke="#444" stroke-width="0.8"/>
<line x1="45" y1="466.65" x2="42.7" y2="466.65" stroke="#444" stroke-width="0.8"/>
<line x1="216.5" y1="466.65" x2="218.8" y2="466.65" stroke="#444" stroke-width="0.8"/>
<line x1="45" y1="457.91" x2="42.7" y2="457.91" stroke="#444" stroke-width="0.8"/>
<line x1="216.5" y1="457.91" x2="218.8" y2="457.91" stroke="#444" stroke-width="0.8"/>
<line x1="45" y1="449.16" x2="42.7" y2="449.16" stroke="#444" stroke-width="0.8"/>
<line x1="216.5" y1="449.16" x2="218.8" y2="449.16" stroke="#444" stroke-width="0.8"/>
<line x1="45" y1="440.42" x2="42.7" y2="440.42" stroke="#444" stroke-width="0.8"/>
<line x1="216.5" y1="440.42" x2="218.8" y2="440.42" stroke="#444" stroke-width="0.8"/>
<line x1="45" y1="431.67" x2="40.5" y2="431.67" stroke="#444" stroke-width="0.8"/>
<line x1="216.5" y1="431.67" x2="221.0" y2="431.67" stroke="#444" stroke-width="0.8"/>
<line x1="45" y1="422.93" x2="42.7" y2="422.93" stroke="#444" stroke-width="0.8"/>
<line x1="216.5" y1="422.93" x2="218.8" y2="422.93" stroke="#444" stroke-width="0.8"/>
<line x1="45" y1="414.19" x2="42.7" y2="414.19" stroke="#444" stroke-width="0.8"/>
<line x1="216.5" y1="414.19" x2="218.8" y2="414.19" stroke="#444" stroke-width="0.8"/>
<line x1="45" y1="405.44" x2="42.7" y2="405.44" stroke="#444" stroke-width="0.8"/>
<line x1="216.5" y1="405.44" x2="218.8" y2="405.44" stroke="#444" stroke-width="0.8"/>
<line x1="45" y1="396.69" x2="42.7" y2="396.69" stroke="#444" stroke-width="0.8"/>
<line x1="216.5" y1="396.69" x2="218.8" y2="396.69" stroke="#444" stroke-width="0.8"/>
<line x1="45" y1="387.95" x2="40.5" y2="387.95" stroke="#444" stroke-width="0.8"/>
<line x1="216.5" y1="387.95" x2="221.0" y2="387.95" stroke="#444" stroke-width="0.8"/>
<line x1="45" y1="379.20" x2="42.7" y2="379.20" stroke="#444" stroke-width="0.8"/>
<line x1="216.5" y1="379.20" x2="218.8" y2="379.20" stroke="#444" stroke-width="0.8"/>
<line x1="45" y1="370.46" x2="42.7" y2="370.46" stroke="#444" stroke-width="0.8"/>
<line x1="216.5" y1="370.46" x2="218.8" y2="370.46" stroke="#444" stroke-width="0.8"/>
<line x1="45" y1="361.71" x2="42.7" y2="361.71" stroke="#444" stroke-width="0.8"/>
<line x1="216.5" y1="361.71" x2="218.8" y2="361.71" stroke="#444" stroke-width="0.8"/>
<line x1="45" y1="352.97" x2="42.7" y2="352.97" stroke="#444" stroke-width="0.8"/>
<line x1="216.5" y1="352.97" x2="218.8" y2="352.97" stroke="#444" stroke-width="0.8"/>
<line x1="45" y1="344.23" x2="40.5" y2="344.23" stroke="#444" stroke-width="0.8"/>
<line x1="216.5" y1="344.23" x2="221.0" y2="344.23" stroke="#444" stroke-width="0.8"/>
<line x1="45" y1="335.48" x2="42.7" y2="335.48" stroke="#444" stroke-width="0.8"/>
<line x1="216.5" y1="335.48" x2="218.8" y2="335.48" stroke="#444" stroke-width="0.8"/>
<line x1="45" y1="326.74" x2="42.7" y2="326.74" stroke="#444" stroke-width="0.8"/>
<line x1="216.5" y1="326.74" x2="218.8" y2="326.74" stroke="#444" stroke-width="0.8"/>
<line x1="45" y1="317.99" x2="42.7" y2="317.99" stroke="#444" stroke-width="0.8"/>
<line x1="216.5" y1="317.99" x2="218.8" y2="317.99" stroke="#444" stroke-width="0.8"/>
<line x1="45" y1="309.25" x2="42.7" y2="309.25" stroke="#444" stroke-width="0.8"/>
<line x1="216.5" y1="309.25" x2="218.8" y2="309.25" stroke="#444" stroke-width="0.8"/>
<line x1="45" y1="300.50" x2="40.5" y2="300.50" stroke="#444" stroke-width="0.8"/>
<line x1="216.5" y1="300.50" x2="221.0" y2="300.50" stroke="#444" stroke-width="0.8"/>
<line x1="45.00" y1="300.5" x2="45.00" y2="296.5" stroke="#555" stroke-width="0.8"/>
<line x1="54.53" y1="300.5" x2="54.53" y2="298.2" stroke="#555" stroke-width="0.8"/>
<line x1="64.06" y1="300.5" x2="64.06" y2="298.2" stroke="#555" stroke-width="0.8"/>
<line x1="73.58" y1="300.5" x2="73.58" y2="296.5" stroke="#555" stroke-width="0.8"/>
<line x1="83.11" y1="300.5" x2="83.11" y2="298.2" stroke="#555" stroke-width="0.8"/>
<line x1="92.64" y1="300.5" x2="92.64" y2="298.2" stroke="#555" stroke-width="0.8"/>
<line x1="102.17" y1="300.5" x2="102.17" y2="296.5" stroke="#555" stroke-width="0.8"/>
<line x1="111.69" y1="300.5" x2="111.69" y2="298.2" stroke="#555" stroke-width="0.8"/>
<line x1="121.22" y1="300.5" x2="121.22" y2="298.2" stroke="#555" stroke-width="0.8"/>
<line x1="130.75" y1="300.5" x2="130.75" y2="296.5" stroke="#555" stroke-width="0.8"/>
<line x1="140.28" y1="300.5" x2="140.28" y2="298.2" stroke="#555" stroke-width="0.8"/>
<line x1="149.81" y1="300.5" x2="149.81" y2="298.2" stroke="#555" stroke-width="0.8"/>
<line x1="159.33" y1="300.5" x2="159.33" y2="296.5" stroke="#555" stroke-width="0.8"/>
<line x1="168.86" y1="300.5" x2="168.86" y2="298.2" stroke="#555" stroke-width="0.8"/>
<line x1="178.39" y1="300.5" x2="178.39" y2="298.2" stroke="#555" stroke-width="0.8"/>
<line x1="187.92" y1="300.5" x2="187.92" y2="296.5" stroke="#555" stroke-width="0.8"/>
<line x1="197.44" y1="300.5" x2="197.44" y2="298.2" stroke="#555" stroke-width="0.8"/>
<line x1="206.97" y1="300.5" x2="206.97" y2="298.2" stroke="#555" stroke-width="0.8"/>
<line x1="216.50" y1="300.5" x2="216.50" y2="296.5" stroke="#555" stroke-width="0.8"/>
<text x="32.6" y="479.50" font-size="11" font-weight="bold" text-anchor="end">0</text>
<text x="32.6" y="435.77" font-size="11" font-weight="bold" text-anchor="end">10</text>
<text x="32.6" y="392.05" font-size="11" font-weight="bold" text-anchor="end">20</text>
<text x="32.6" y="348.33" font-size="11" font-weight="bold" text-anchor="end">30</text>
<text x="32.6" y="304.60" font-size="11" font-weight="bold" text-anchor="end">40</text>
<rect x="49.3" y="305.5" width="12.900000000000006" height="13.0" fill="#fff" stroke="#ddd" stroke-width="0.7"/>
<text x="55.8" y="314.9" font-size="9" stroke="#000" stroke-width="0.2" text-anchor="middle">b)</text>
<text x="216.5" y="295.2" font-size="7.22" stroke="#000" stroke-width="0.45" text-anchor="end">JJAS</text>
<text x="46" y="293.8" font-size="7.75" stroke="#000" stroke-width="0.15">Contribution to precipitation by sources</text>
<text transform="translate(12.2,388.2) rotate(-90)" font-size="10" font-weight="bold" text-anchor="middle">Fraction of total precipitation (%)</text>
<rect x="320.60" y="470.68" width="7.40" height="6.72" fill="rgb(227, 30, 38)" stroke="#333" stroke-width="0.5"/>
<rect x="330.33" y="475.61" width="7.40" height="1.79" fill="rgb(244, 154, 154)" stroke="#333" stroke-width="0.5"/>
<rect x="340.06" y="373.07" width="7.40" height="104.33" fill="rgb(43, 93, 142)" stroke="#333" stroke-width="0.5"/>
<rect x="349.79" y="450.98" width="7.40" height="26.42" fill="rgb(91, 151, 204)" stroke="#333" stroke-width="0.5"/>
<rect x="359.52" y="455.91" width="7.40" height="21.49" fill="rgb(176, 205, 232)" stroke="#333" stroke-width="0.5"/>
<rect x="369.25" y="462.62" width="7.40" height="14.78" fill="rgb(106, 50, 130)" stroke="#333" stroke-width="0.5"/>
<rect x="378.98" y="462.18" width="7.40" height="15.22" fill="rgb(168, 109, 181)" stroke="#333" stroke-width="0.5"/>
<rect x="388.71" y="463.07" width="7.40" height="14.33" fill="rgb(216, 181, 220)" stroke="#333" stroke-width="0.5"/>
<rect x="398.44" y="472.92" width="7.40" height="4.48" fill="rgb(245, 130, 32)" stroke="#333" stroke-width="0.5"/>
<rect x="408.17" y="450.53" width="7.40" height="26.87" fill="rgb(253, 191, 111)" stroke="#333" stroke-width="0.5"/>
<rect x="417.90" y="463.97" width="7.40" height="13.43" fill="rgb(230, 0, 126)" stroke="#333" stroke-width="0.5"/>
<rect x="427.63" y="467.10" width="7.40" height="10.30" fill="rgb(244, 154, 200)" stroke="#333" stroke-width="0.5"/>
<rect x="437.36" y="465.31" width="7.40" height="12.09" fill="rgb(0, 174, 239)" stroke="#333" stroke-width="0.5"/>
<rect x="447.09" y="474.27" width="7.40" height="3.13" fill="rgb(98, 198, 232)" stroke="#333" stroke-width="0.5"/>
<rect x="456.82" y="463.52" width="7.40" height="13.88" fill="rgb(51, 160, 74)" stroke="#333" stroke-width="0.5"/>
<rect x="466.55" y="467.10" width="7.40" height="10.30" fill="rgb(179, 90, 42)" stroke="#333" stroke-width="0.5"/>
<rect x="476.28" y="472.92" width="7.40" height="4.48" fill="rgb(255, 210, 0)" stroke="#333" stroke-width="0.5"/>
<rect x="314.5" y="298.3" width="175.89999999999998" height="179.09999999999997" fill="none" stroke="#333" stroke-width="1"/>
<line x1="314.5" y1="477.40" x2="310.0" y2="477.40" stroke="#444" stroke-width="0.8"/>
<line x1="490.4" y1="477.40" x2="494.9" y2="477.40" stroke="#444" stroke-width="0.8"/>
<line x1="314.5" y1="468.44" x2="312.2" y2="468.44" stroke="#444" stroke-width="0.8"/>
<line x1="490.4" y1="468.44" x2="492.7" y2="468.44" stroke="#444" stroke-width="0.8"/>
<line x1="314.5" y1="459.49" x2="312.2" y2="459.49" stroke="#444" stroke-width="0.8"/>
<line x1="490.4" y1="459.49" x2="492.7" y2="459.49" stroke="#444" stroke-width="0.8"/>
<line x1="314.5" y1="450.53" x2="312.2" y2="450.53" stroke="#444" stroke-width="0.8"/>
<line x1="490.4" y1="450.53" x2="492.7" y2="450.53" stroke="#444" stroke-width="0.8"/>
<line x1="314.5" y1="441.58" x2="312.2" y2="441.58" stroke="#444" stroke-width="0.8"/>
<line x1="490.4" y1="441.58" x2="492.7" y2="441.58" stroke="#444" stroke-width="0.8"/>
<line x1="314.5" y1="432.62" x2="310.0" y2="432.62" stroke="#444" stroke-width="0.8"/>
<line x1="490.4" y1="432.62" x2="494.9" y2="432.62" stroke="#444" stroke-width="0.8"/>
<line x1="314.5" y1="423.67" x2="312.2" y2="423.67" stroke="#444" stroke-width="0.8"/>
<line x1="490.4" y1="423.67" x2="492.7" y2="423.67" stroke="#444" stroke-width="0.8"/>
<line x1="314.5" y1="414.71" x2="312.2" y2="414.71" stroke="#444" stroke-width="0.8"/>
<line x1="490.4" y1="414.71" x2="492.7" y2="414.71" stroke="#444" stroke-width="0.8"/>
<line x1="314.5" y1="405.76" x2="312.2" y2="405.76" stroke="#444" stroke-width="0.8"/>
<line x1="490.4" y1="405.76" x2="492.7" y2="405.76" stroke="#444" stroke-width="0.8"/>
<line x1="314.5" y1="396.81" x2="312.2" y2="396.81" stroke="#444" stroke-width="0.8"/>
<line x1="490.4" y1="396.81" x2="492.7" y2="396.81" stroke="#444" stroke-width="0.8"/>
<line x1="314.5" y1="387.85" x2="310.0" y2="387.85" stroke="#444" stroke-width="0.8"/>
<line x1="490.4" y1="387.85" x2="494.9" y2="387.85" stroke="#444" stroke-width="0.8"/>
<line x1="314.5" y1="378.89" x2="312.2" y2="378.89" stroke="#444" stroke-width="0.8"/>
<line x1="490.4" y1="378.89" x2="492.7" y2="378.89" stroke="#444" stroke-width="0.8"/>
<line x1="314.5" y1="369.94" x2="312.2" y2="369.94" stroke="#444" stroke-width="0.8"/>
<line x1="490.4" y1="369.94" x2="492.7" y2="369.94" stroke="#444" stroke-width="0.8"/>
<line x1="314.5" y1="360.99" x2="312.2" y2="360.99" stroke="#444" stroke-width="0.8"/>
<line x1="490.4" y1="360.99" x2="492.7" y2="360.99" stroke="#444" stroke-width="0.8"/>
<line x1="314.5" y1="352.03" x2="312.2" y2="352.03" stroke="#444" stroke-width="0.8"/>
<line x1="490.4" y1="352.03" x2="492.7" y2="352.03" stroke="#444" stroke-width="0.8"/>
<line x1="314.5" y1="343.07" x2="310.0" y2="343.07" stroke="#444" stroke-width="0.8"/>
<line x1="490.4" y1="343.07" x2="494.9" y2="343.07" stroke="#444" stroke-width="0.8"/>
<line x1="314.5" y1="334.12" x2="312.2" y2="334.12" stroke="#444" stroke-width="0.8"/>
<line x1="490.4" y1="334.12" x2="492.7" y2="334.12" stroke="#444" stroke-width="0.8"/>
<line x1="314.5" y1="325.16" x2="312.2" y2="325.16" stroke="#444" stroke-width="0.8"/>
<line x1="490.4" y1="325.16" x2="492.7" y2="325.16" stroke="#444" stroke-width="0.8"/>
<line x1="314.5" y1="316.21" x2="312.2" y2="316.21" stroke="#444" stroke-width="0.8"/>
<line x1="490.4" y1="316.21" x2="492.7" y2="316.21" stroke="#444" stroke-width="0.8"/>
<line x1="314.5" y1="307.25" x2="312.2" y2="307.25" stroke="#444" stroke-width="0.8"/>
<line x1="490.4" y1="307.25" x2="492.7" y2="307.25" stroke="#444" stroke-width="0.8"/>
<line x1="314.5" y1="298.30" x2="310.0" y2="298.30" stroke="#444" stroke-width="0.8"/>
<line x1="490.4" y1="298.30" x2="494.9" y2="298.30" stroke="#444" stroke-width="0.8"/>
<line x1="314.50" y1="298.3" x2="314.50" y2="294.3" stroke="#555" stroke-width="0.8"/>
<line x1="324.27" y1="298.3" x2="324.27" y2="296.0" stroke="#555" stroke-width="0.8"/>
<line x1="334.04" y1="298.3" x2="334.04" y2="296.0" stroke="#555" stroke-width="0.8"/>
<line x1="343.82" y1="298.3" x2="343.82" y2="294.3" stroke="#555" stroke-width="0.8"/>
<line x1="353.59" y1="298.3" x2="353.59" y2="296.0" stroke="#555" stroke-width="0.8"/>
<line x1="363.36" y1="298.3" x2="363.36" y2="296.0" stroke="#555" stroke-width="0.8"/>
<line x1="373.13" y1="298.3" x2="373.13" y2="294.3" stroke="#555" stroke-width="0.8"/>
<line x1="382.91" y1="298.3" x2="382.91" y2="296.0" stroke="#555" stroke-width="0.8"/>
<line x1="392.68" y1="298.3" x2="392.68" y2="296.0" stroke="#555" stroke-width="0.8"/>
<line x1="402.45" y1="298.3" x2="402.45" y2="294.3" stroke="#555" stroke-width="0.8"/>
<line x1="412.22" y1="298.3" x2="412.22" y2="296.0" stroke="#555" stroke-width="0.8"/>
<line x1="421.99" y1="298.3" x2="421.99" y2="296.0" stroke="#555" stroke-width="0.8"/>
<line x1="431.77" y1="298.3" x2="431.77" y2="294.3" stroke="#555" stroke-width="0.8"/>
<line x1="441.54" y1="298.3" x2="441.54" y2="296.0" stroke="#555" stroke-width="0.8"/>
<line x1="451.31" y1="298.3" x2="451.31" y2="296.0" stroke="#555" stroke-width="0.8"/>
<line x1="461.08" y1="298.3" x2="461.08" y2="294.3" stroke="#555" stroke-width="0.8"/>
<line x1="470.86" y1="298.3" x2="470.86" y2="296.0" stroke="#555" stroke-width="0.8"/>
<line x1="480.63" y1="298.3" x2="480.63" y2="296.0" stroke="#555" stroke-width="0.8"/>
<line x1="490.40" y1="298.3" x2="490.40" y2="294.3" stroke="#555" stroke-width="0.8"/>
<text x="302.0" y="481.80" font-size="11.2" font-weight="bold" text-anchor="end">0</text>
<text x="302.0" y="437.02" font-size="11.2" font-weight="bold" text-anchor="end">1</text>
<text x="302.0" y="392.25" font-size="11.2" font-weight="bold" text-anchor="end">2</text>
<text x="302.0" y="347.47" font-size="11.2" font-weight="bold" text-anchor="end">3</text>
<text x="302.0" y="302.70" font-size="11.2" font-weight="bold" text-anchor="end">4</text>
<rect x="319" y="303.3" width="12.800000000000011" height="13.5" fill="#fff" stroke="#ddd" stroke-width="0.7"/>
<text x="325.4" y="313.2" font-size="9" stroke="#000" stroke-width="0.2" text-anchor="middle">c)</text>
<text x="490.4" y="293.0" font-size="7.6" stroke="#000" stroke-width="0.45" text-anchor="end">JJAS</text>
<text x="314.5" y="292" font-family="\"Liberation Serif\", serif" font-size="8.6" fill="#666">δ<tspan font-size="4.6" dy="-3">18</tspan><tspan dy="3">O</tspan></text>
<text x="331" y="292" font-size="7.82" stroke="#000" stroke-width="0.15">of source-tagged precipitation</text>
<g transform="translate(289.5,389) rotate(-90)"><text font-size="10.7" font-weight="bold" text-anchor="middle"><tspan font-family="\"Liberation Serif\", serif" font-weight="normal" fill="#555">δ</tspan><tspan font-family="\"Liberation Serif\", serif" font-weight="normal" fill="#555" font-size="6" dy="-4">18</tspan><tspan font-family="\"Liberation Serif\", serif" font-weight="normal" fill="#555" dy="4">O</tspan><tspan font-size="6.5" dy="2">precip</tspan><tspan dy="-2"> [Tag] (Permil</tspan><tspan font-weight="normal">×</tspan><tspan>-1)</tspan></text></g>
<rect x="150.8" y="518.40" width="21" height="10.8" fill="rgb(245, 130, 32)" stroke="#555" stroke-width="0.8"/>
<text x="178" y="527.00" font-size="8.2" fill="#222" stroke="#222" stroke-width="0.3" letter-spacing="0.12">S. China Sea</text>
<rect x="150.8" y="531.00" width="21" height="10.8" fill="rgb(216, 181, 220)" stroke="#555" stroke-width="0.8"/>
<text x="178" y="539.60" font-size="8.2" fill="#222" stroke="#222" stroke-width="0.3" letter-spacing="0.12">S. Atlantic</text>
<rect x="150.8" y="543.60" width="21" height="10.8" fill="rgb(168, 109, 181)" stroke="#555" stroke-width="0.8"/>
<text x="178" y="552.20" font-size="8.2" fill="#222" stroke="#222" stroke-width="0.3" letter-spacing="0.12">N. Atlantic</text>
<rect x="150.8" y="556.20" width="21" height="10.8" fill="rgb(106, 50, 130)" stroke="#555" stroke-width="0.8"/>
<text x="178" y="564.80" font-size="8.2" fill="#222" stroke="#222" stroke-width="0.3" letter-spacing="0.12">S. Pacific</text>
<rect x="150.8" y="568.80" width="21" height="10.8" fill="rgb(176, 205, 232)" stroke="#555" stroke-width="0.8"/>
<text x="178" y="577.40" font-size="8.2" fill="#222" stroke="#222" stroke-width="0.3" letter-spacing="0.12">N. Pacific</text>
<rect x="150.8" y="581.40" width="21" height="10.8" fill="rgb(91, 151, 204)" stroke="#555" stroke-width="0.8"/>
<text x="178" y="590.00" font-size="8.2" fill="#222" stroke="#222" stroke-width="0.3" letter-spacing="0.12">Central IO</text>
<rect x="150.8" y="594.00" width="21" height="10.8" fill="rgb(43, 93, 142)" stroke="#555" stroke-width="0.8"/>
<text x="178" y="602.60" font-size="8.2" fill="#222" stroke="#222" stroke-width="0.3" letter-spacing="0.12">Southern IO</text>
<rect x="150.8" y="606.60" width="21" height="10.8" fill="rgb(244, 154, 154)" stroke="#555" stroke-width="0.8"/>
<text x="178" y="615.20" font-size="8.2" fill="#222" stroke="#222" stroke-width="0.3" letter-spacing="0.12">Bay of Bengal</text>
<rect x="150.8" y="619.20" width="21" height="10.8" fill="rgb(227, 30, 38)" stroke="#555" stroke-width="0.8"/>
<text x="178" y="627.80" font-size="8.2" fill="#222" stroke="#222" stroke-width="0.3" letter-spacing="0.12">Arabian Sea</text>
<rect x="288.8" y="519.20" width="21" height="11" fill="rgb(255, 210, 0)" stroke="#555" stroke-width="0.8"/>
<text x="316" y="528.00" font-size="8.6" font-weight="bold" fill="#222">S. China Land</text>
<rect x="288.8" y="533.30" width="21" height="11" fill="rgb(179, 90, 42)" stroke="#555" stroke-width="0.8"/>
<text x="316" y="542.10" font-size="8.6" font-weight="bold" fill="#222">Europe</text>
<rect x="288.8" y="547.40" width="21" height="11" fill="rgb(51, 160, 74)" stroke="#555" stroke-width="0.8"/>
<text x="316" y="556.20" font-size="8.6" font-weight="bold" fill="#222">C. Africa</text>
<rect x="288.8" y="561.50" width="21" height="11" fill="rgb(98, 198, 232)" stroke="#555" stroke-width="0.8"/>
<text x="316" y="570.30" font-size="8.6" font-weight="bold" fill="#222">S. Africa</text>
<rect x="288.8" y="575.60" width="21" height="11" fill="rgb(0, 174, 239)" stroke="#555" stroke-width="0.8"/>
<text x="316" y="584.40" font-size="8.6" font-weight="bold" fill="#222">N. Africa</text>
<rect x="288.8" y="589.70" width="21" height="11" fill="rgb(244, 154, 200)" stroke="#555" stroke-width="0.8"/>
<text x="316" y="598.50" font-size="8.6" font-weight="bold" fill="#222">Arabian Peninsula</text>
<rect x="288.8" y="603.80" width="21" height="11" fill="rgb(230, 0, 126)" stroke="#555" stroke-width="0.8"/>
<text x="316" y="612.60" font-size="8.6" font-weight="bold" fill="#222">N.China/N.Asia</text>
<rect x="288.8" y="617.90" width="21" height="11" fill="rgb(253, 191, 111)" stroke="#555" stroke-width="0.8"/>
<text x="316" y="626.70" font-size="8.6" font-weight="bold" fill="#222">Indian Land</text>
</svg>
</body></html>
